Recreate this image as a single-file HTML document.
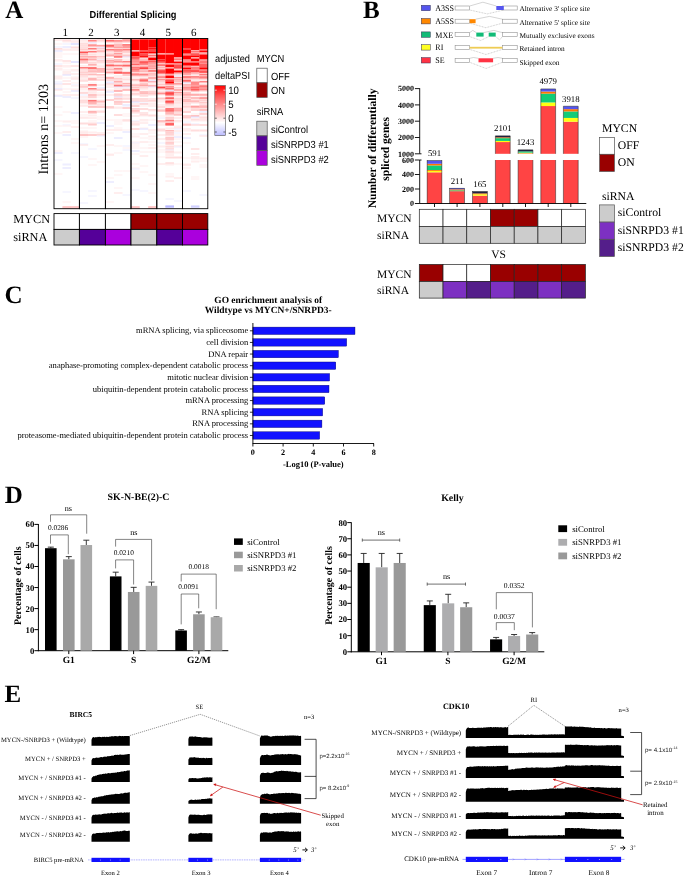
<!DOCTYPE html>
<html><head><meta charset="utf-8"><title>Figure</title>
<style>
html,body{margin:0;padding:0;background:#fff;}
body{width:685px;height:878px;overflow:hidden;}
svg{display:block;will-change:transform;}
text{text-rendering:geometricPrecision;}
.sf{font-family:"Liberation Serif",serif;}
.ss{font-family:"Liberation Sans",sans-serif;}
.b{font-weight:bold;}
</style></head><body>
<svg width="685" height="878" viewBox="0 0 685 878">
<rect width="685" height="878" fill="#fff"/>
<g id="panelA">
<text class="sf b" x="5.3" y="18.2" font-size="25">A</text>
<text class="ss b" x="133.0" y="17.5" font-size="10.2" text-anchor="middle" textLength="87" lengthAdjust="spacingAndGlyphs">Differential Splicing</text>
<text class="sf" x="65.2" y="35.8" font-size="11" text-anchor="middle">1</text>
<text class="sf" x="90.9" y="35.8" font-size="11" text-anchor="middle">2</text>
<text class="sf" x="116.7" y="35.8" font-size="11" text-anchor="middle">3</text>
<text class="sf" x="142.4" y="35.8" font-size="11" text-anchor="middle">4</text>
<text class="sf" x="168.2" y="35.8" font-size="11" text-anchor="middle">5</text>
<text class="sf" x="193.7" y="35.8" font-size="11" text-anchor="middle">6</text>
<rect x="54.00" y="39.5" width="8.52" height="1" fill="#fdd"/>
<rect x="54.00" y="43.5" width="8.52" height="1" fill="#fee"/>
<rect x="54.00" y="46.5" width="8.52" height="1" fill="#eef"/>
<rect x="54.00" y="48.5" width="8.52" height="1" fill="#fbb"/>
<rect x="54.00" y="49.5" width="8.52" height="1" fill="#fee"/>
<rect x="54.00" y="50.5" width="8.52" height="1" fill="#ddf"/>
<rect x="54.00" y="52.5" width="8.52" height="1" fill="#fee"/>
<rect x="54.00" y="54.5" width="8.52" height="1" fill="#fee"/>
<rect x="54.00" y="56.5" width="8.52" height="1" fill="#fee"/>
<rect x="54.00" y="59.5" width="8.52" height="1" fill="#fdd"/>
<rect x="54.00" y="60.5" width="8.52" height="1" fill="#fee"/>
<rect x="54.00" y="63.5" width="8.52" height="1" fill="#eef"/>
<rect x="54.00" y="65.5" width="8.52" height="1" fill="#fcc"/>
<rect x="54.00" y="67.5" width="8.52" height="3" fill="#fee"/>
<rect x="54.00" y="75.5" width="8.52" height="4" fill="#fee"/>
<rect x="54.00" y="81.5" width="8.52" height="1" fill="#eef"/>
<rect x="54.00" y="83.5" width="8.52" height="1" fill="#ddf"/>
<rect x="54.00" y="84.5" width="8.52" height="1" fill="#fee"/>
<rect x="54.00" y="86.5" width="8.52" height="1" fill="#fee"/>
<rect x="54.00" y="88.5" width="8.52" height="1" fill="#ddf"/>
<rect x="54.00" y="89.5" width="8.52" height="1" fill="#fdd"/>
<rect x="54.00" y="94.5" width="8.52" height="1" fill="#fee"/>
<rect x="54.00" y="95.5" width="8.52" height="1" fill="#ddf"/>
<rect x="54.00" y="106.5" width="8.52" height="1" fill="#fee"/>
<rect x="54.00" y="114.5" width="8.52" height="1" fill="#fee"/>
<rect x="54.00" y="120.5" width="8.52" height="1" fill="#fee"/>
<rect x="54.00" y="125.5" width="8.52" height="1" fill="#fee"/>
<rect x="54.00" y="132.5" width="8.52" height="1" fill="#fee"/>
<rect x="54.00" y="150.5" width="8.52" height="1" fill="#fee"/>
<rect x="54.00" y="152.5" width="8.52" height="1" fill="#ddf"/>
<rect x="54.00" y="159.5" width="8.52" height="1" fill="#eef"/>
<rect x="54.00" y="173.5" width="8.52" height="1" fill="#fee"/>
<rect x="62.47" y="39.5" width="8.52" height="1" fill="#fdd"/>
<rect x="62.47" y="40.5" width="8.52" height="1" fill="#fcc"/>
<rect x="62.47" y="41.5" width="8.52" height="1" fill="#fee"/>
<rect x="62.47" y="43.5" width="8.52" height="1" fill="#eef"/>
<rect x="62.47" y="46.5" width="8.52" height="1" fill="#ddf"/>
<rect x="62.47" y="48.5" width="8.52" height="1" fill="#fee"/>
<rect x="62.47" y="49.5" width="8.52" height="1" fill="#fdd"/>
<rect x="62.47" y="53.5" width="8.52" height="1" fill="#fee"/>
<rect x="62.47" y="60.5" width="8.52" height="1" fill="#fcc"/>
<rect x="62.47" y="62.5" width="8.52" height="1" fill="#fee"/>
<rect x="62.47" y="65.5" width="8.52" height="1" fill="#fdd"/>
<rect x="62.47" y="66.5" width="8.52" height="1" fill="#fee"/>
<rect x="62.47" y="69.5" width="8.52" height="1" fill="#fee"/>
<rect x="62.47" y="71.5" width="8.52" height="1" fill="#fdd"/>
<rect x="62.47" y="73.5" width="8.52" height="1" fill="#fdd"/>
<rect x="62.47" y="74.5" width="8.52" height="1" fill="#ddf"/>
<rect x="62.47" y="77.5" width="8.52" height="1" fill="#fee"/>
<rect x="62.47" y="80.5" width="8.52" height="1" fill="#fdd"/>
<rect x="62.47" y="83.5" width="8.52" height="1" fill="#fcc"/>
<rect x="62.47" y="88.5" width="8.52" height="1" fill="#fee"/>
<rect x="62.47" y="91.5" width="8.52" height="1" fill="#fee"/>
<rect x="62.47" y="94.5" width="8.52" height="1" fill="#fdd"/>
<rect x="62.47" y="96.5" width="8.52" height="1" fill="#ddf"/>
<rect x="62.47" y="111.5" width="8.52" height="1" fill="#fee"/>
<rect x="62.47" y="120.5" width="8.52" height="2" fill="#fee"/>
<rect x="62.47" y="124.5" width="8.52" height="1" fill="#eef"/>
<rect x="62.47" y="125.5" width="8.52" height="1" fill="#fee"/>
<rect x="62.47" y="131.5" width="8.52" height="1" fill="#fdd"/>
<rect x="62.47" y="134.5" width="8.52" height="1" fill="#ddf"/>
<rect x="62.47" y="163.5" width="8.52" height="2" fill="#eef"/>
<rect x="62.47" y="167.5" width="8.52" height="1" fill="#ddf"/>
<rect x="62.47" y="191.5" width="8.52" height="1" fill="#eef"/>
<rect x="62.47" y="201.5" width="8.52" height="1" fill="#fee"/>
<rect x="62.47" y="206.5" width="8.52" height="1" fill="#f99"/>
<rect x="62.47" y="207.5" width="8.52" height="1" fill="#fbb"/>
<rect x="70.93" y="39.5" width="8.52" height="2" fill="#fee"/>
<rect x="70.93" y="41.5" width="8.52" height="1" fill="#fdd"/>
<rect x="70.93" y="43.5" width="8.52" height="1" fill="#ccf"/>
<rect x="70.93" y="46.5" width="8.52" height="2" fill="#fdd"/>
<rect x="70.93" y="49.5" width="8.52" height="1" fill="#fdd"/>
<rect x="70.93" y="53.5" width="8.52" height="1" fill="#fee"/>
<rect x="70.93" y="61.5" width="8.52" height="1" fill="#ccf"/>
<rect x="70.93" y="65.5" width="8.52" height="1" fill="#fcc"/>
<rect x="70.93" y="69.5" width="8.52" height="1" fill="#fdd"/>
<rect x="70.93" y="70.5" width="8.52" height="1" fill="#fee"/>
<rect x="70.93" y="73.5" width="8.52" height="1" fill="#fdd"/>
<rect x="70.93" y="76.5" width="8.52" height="2" fill="#fee"/>
<rect x="70.93" y="78.5" width="8.52" height="1" fill="#fdd"/>
<rect x="70.93" y="82.5" width="8.52" height="1" fill="#fee"/>
<rect x="70.93" y="84.5" width="8.52" height="1" fill="#eef"/>
<rect x="70.93" y="85.5" width="8.52" height="1" fill="#fee"/>
<rect x="70.93" y="88.5" width="8.52" height="2" fill="#fee"/>
<rect x="70.93" y="90.5" width="8.52" height="1" fill="#ddf"/>
<rect x="70.93" y="94.5" width="8.52" height="1" fill="#fdd"/>
<rect x="70.93" y="97.5" width="8.52" height="1" fill="#eef"/>
<rect x="70.93" y="112.5" width="8.52" height="1" fill="#ddf"/>
<rect x="70.93" y="120.5" width="8.52" height="1" fill="#fee"/>
<rect x="70.93" y="122.5" width="8.52" height="1" fill="#fee"/>
<rect x="70.93" y="126.5" width="8.52" height="1" fill="#fdd"/>
<rect x="70.93" y="138.5" width="8.52" height="1" fill="#fee"/>
<rect x="70.93" y="142.5" width="8.52" height="1" fill="#fee"/>
<rect x="70.93" y="152.5" width="8.52" height="1" fill="#eef"/>
<rect x="70.93" y="206.5" width="8.52" height="1" fill="#f99"/>
<rect x="70.93" y="207.5" width="8.52" height="1" fill="#fbb"/>
<rect x="79.40" y="38.5" width="8.72" height="1" fill="#ddf"/>
<rect x="79.40" y="39.5" width="8.72" height="1" fill="#fee"/>
<rect x="79.40" y="40.5" width="8.72" height="1" fill="#fdd"/>
<rect x="79.40" y="42.5" width="8.72" height="1" fill="#fdd"/>
<rect x="79.40" y="43.5" width="8.72" height="1" fill="#fcc"/>
<rect x="79.40" y="44.5" width="8.72" height="1" fill="#fdd"/>
<rect x="79.40" y="45.5" width="8.72" height="1" fill="#fcc"/>
<rect x="79.40" y="46.5" width="8.72" height="2" fill="#fdd"/>
<rect x="79.40" y="48.5" width="8.72" height="2" fill="#fcc"/>
<rect x="79.40" y="50.5" width="8.72" height="1" fill="#fdd"/>
<rect x="79.40" y="51.5" width="8.72" height="1" fill="#f55"/>
<rect x="79.40" y="52.5" width="8.72" height="1" fill="#f00"/>
<rect x="79.40" y="53.5" width="8.72" height="1" fill="#fee"/>
<rect x="79.40" y="54.5" width="8.72" height="1" fill="#f77"/>
<rect x="79.40" y="55.5" width="8.72" height="1" fill="#fee"/>
<rect x="79.40" y="56.5" width="8.72" height="1" fill="#f66"/>
<rect x="79.40" y="57.5" width="8.72" height="1" fill="#fdd"/>
<rect x="79.40" y="58.5" width="8.72" height="1" fill="#f77"/>
<rect x="79.40" y="59.5" width="8.72" height="1" fill="#f22"/>
<rect x="79.40" y="60.5" width="8.72" height="1" fill="#fcc"/>
<rect x="79.40" y="61.5" width="8.72" height="1" fill="#faa"/>
<rect x="79.40" y="62.5" width="8.72" height="1" fill="#fbb"/>
<rect x="79.40" y="65.5" width="8.72" height="1" fill="#fdd"/>
<rect x="79.40" y="66.5" width="8.72" height="1" fill="#fee"/>
<rect x="79.40" y="67.5" width="8.72" height="1" fill="#f00"/>
<rect x="79.40" y="68.5" width="8.72" height="1" fill="#fdd"/>
<rect x="79.40" y="69.5" width="8.72" height="1" fill="#fcc"/>
<rect x="79.40" y="70.5" width="8.72" height="1" fill="#fdd"/>
<rect x="79.40" y="71.5" width="8.72" height="1" fill="#fcc"/>
<rect x="79.40" y="72.5" width="8.72" height="1" fill="#fbb"/>
<rect x="79.40" y="74.5" width="8.72" height="1" fill="#f99"/>
<rect x="79.40" y="75.5" width="8.72" height="1" fill="#fee"/>
<rect x="79.40" y="76.5" width="8.72" height="1" fill="#fcc"/>
<rect x="79.40" y="77.5" width="8.72" height="2" fill="#fee"/>
<rect x="79.40" y="79.5" width="8.72" height="1" fill="#fdd"/>
<rect x="79.40" y="80.5" width="8.72" height="1" fill="#fcc"/>
<rect x="79.40" y="84.5" width="8.72" height="1" fill="#fbb"/>
<rect x="79.40" y="85.5" width="8.72" height="1" fill="#fdd"/>
<rect x="79.40" y="86.5" width="8.72" height="1" fill="#faa"/>
<rect x="79.40" y="88.5" width="8.72" height="1" fill="#fdd"/>
<rect x="79.40" y="89.5" width="8.72" height="1" fill="#fee"/>
<rect x="79.40" y="91.5" width="8.72" height="1" fill="#fee"/>
<rect x="79.40" y="92.5" width="8.72" height="1" fill="#fbb"/>
<rect x="79.40" y="94.5" width="8.72" height="1" fill="#eef"/>
<rect x="79.40" y="96.5" width="8.72" height="1" fill="#fdd"/>
<rect x="79.40" y="98.5" width="8.72" height="2" fill="#fee"/>
<rect x="79.40" y="100.5" width="8.72" height="1" fill="#fbb"/>
<rect x="79.40" y="101.5" width="8.72" height="2" fill="#fdd"/>
<rect x="79.40" y="104.5" width="8.72" height="1" fill="#fee"/>
<rect x="79.40" y="105.5" width="8.72" height="1" fill="#fdd"/>
<rect x="79.40" y="111.5" width="8.72" height="1" fill="#fdd"/>
<rect x="79.40" y="114.5" width="8.72" height="1" fill="#fee"/>
<rect x="79.40" y="116.5" width="8.72" height="1" fill="#fee"/>
<rect x="79.40" y="117.5" width="8.72" height="1" fill="#fdd"/>
<rect x="79.40" y="122.5" width="8.72" height="2" fill="#fdd"/>
<rect x="79.40" y="127.5" width="8.72" height="1" fill="#fee"/>
<rect x="79.40" y="130.5" width="8.72" height="2" fill="#fee"/>
<rect x="79.40" y="132.5" width="8.72" height="1" fill="#fdd"/>
<rect x="79.40" y="134.5" width="8.72" height="1" fill="#f88"/>
<rect x="79.40" y="136.5" width="8.72" height="1" fill="#fee"/>
<rect x="79.40" y="143.5" width="8.72" height="1" fill="#eef"/>
<rect x="79.40" y="144.5" width="8.72" height="1" fill="#fdd"/>
<rect x="79.40" y="156.5" width="8.72" height="1" fill="#eef"/>
<rect x="79.40" y="202.5" width="8.72" height="1" fill="#eef"/>
<rect x="88.07" y="39.5" width="8.72" height="1" fill="#fcc"/>
<rect x="88.07" y="40.5" width="8.72" height="1" fill="#f22"/>
<rect x="88.07" y="41.5" width="8.72" height="1" fill="#fdd"/>
<rect x="88.07" y="42.5" width="8.72" height="1" fill="#ddf"/>
<rect x="88.07" y="43.5" width="8.72" height="1" fill="#fee"/>
<rect x="88.07" y="44.5" width="8.72" height="1" fill="#f66"/>
<rect x="88.07" y="45.5" width="8.72" height="1" fill="#f77"/>
<rect x="88.07" y="46.5" width="8.72" height="1" fill="#fcc"/>
<rect x="88.07" y="47.5" width="8.72" height="1" fill="#fee"/>
<rect x="88.07" y="48.5" width="8.72" height="1" fill="#f00"/>
<rect x="88.07" y="49.5" width="8.72" height="1" fill="#fee"/>
<rect x="88.07" y="50.5" width="8.72" height="1" fill="#fdd"/>
<rect x="88.07" y="51.5" width="8.72" height="1" fill="#f00"/>
<rect x="88.07" y="52.5" width="8.72" height="2" fill="#fee"/>
<rect x="88.07" y="54.5" width="8.72" height="1" fill="#fcc"/>
<rect x="88.07" y="55.5" width="8.72" height="1" fill="#fee"/>
<rect x="88.07" y="56.5" width="8.72" height="1" fill="#f66"/>
<rect x="88.07" y="57.5" width="8.72" height="2" fill="#fcc"/>
<rect x="88.07" y="59.5" width="8.72" height="1" fill="#f77"/>
<rect x="88.07" y="60.5" width="8.72" height="2" fill="#fee"/>
<rect x="88.07" y="62.5" width="8.72" height="1" fill="#fbb"/>
<rect x="88.07" y="64.5" width="8.72" height="1" fill="#f66"/>
<rect x="88.07" y="65.5" width="8.72" height="1" fill="#fdd"/>
<rect x="88.07" y="66.5" width="8.72" height="1" fill="#fee"/>
<rect x="88.07" y="67.5" width="8.72" height="1" fill="#f00"/>
<rect x="88.07" y="68.5" width="8.72" height="1" fill="#f66"/>
<rect x="88.07" y="69.5" width="8.72" height="1" fill="#fdd"/>
<rect x="88.07" y="70.5" width="8.72" height="1" fill="#f99"/>
<rect x="88.07" y="71.5" width="8.72" height="1" fill="#faa"/>
<rect x="88.07" y="73.5" width="8.72" height="2" fill="#fbb"/>
<rect x="88.07" y="75.5" width="8.72" height="1" fill="#fee"/>
<rect x="88.07" y="77.5" width="8.72" height="1" fill="#fcc"/>
<rect x="88.07" y="78.5" width="8.72" height="1" fill="#f88"/>
<rect x="88.07" y="79.5" width="8.72" height="1" fill="#faa"/>
<rect x="88.07" y="82.5" width="8.72" height="1" fill="#fee"/>
<rect x="88.07" y="84.5" width="8.72" height="1" fill="#f00"/>
<rect x="88.07" y="85.5" width="8.72" height="1" fill="#faa"/>
<rect x="88.07" y="86.5" width="8.72" height="1" fill="#fee"/>
<rect x="88.07" y="88.5" width="8.72" height="1" fill="#f00"/>
<rect x="88.07" y="89.5" width="8.72" height="2" fill="#fdd"/>
<rect x="88.07" y="91.5" width="8.72" height="1" fill="#fee"/>
<rect x="88.07" y="92.5" width="8.72" height="1" fill="#fdd"/>
<rect x="88.07" y="94.5" width="8.72" height="1" fill="#f88"/>
<rect x="88.07" y="96.5" width="8.72" height="1" fill="#faa"/>
<rect x="88.07" y="98.5" width="8.72" height="1" fill="#fee"/>
<rect x="88.07" y="99.5" width="8.72" height="1" fill="#fdd"/>
<rect x="88.07" y="100.5" width="8.72" height="1" fill="#f00"/>
<rect x="88.07" y="101.5" width="8.72" height="1" fill="#fbb"/>
<rect x="88.07" y="102.5" width="8.72" height="1" fill="#f88"/>
<rect x="88.07" y="103.5" width="8.72" height="1" fill="#faa"/>
<rect x="88.07" y="105.5" width="8.72" height="1" fill="#fdd"/>
<rect x="88.07" y="106.5" width="8.72" height="1" fill="#f99"/>
<rect x="88.07" y="110.5" width="8.72" height="1" fill="#fdd"/>
<rect x="88.07" y="111.5" width="8.72" height="1" fill="#f77"/>
<rect x="88.07" y="112.5" width="8.72" height="1" fill="#fbb"/>
<rect x="88.07" y="114.5" width="8.72" height="2" fill="#fee"/>
<rect x="88.07" y="117.5" width="8.72" height="1" fill="#fdd"/>
<rect x="88.07" y="120.5" width="8.72" height="1" fill="#fee"/>
<rect x="88.07" y="122.5" width="8.72" height="1" fill="#fdd"/>
<rect x="88.07" y="123.5" width="8.72" height="2" fill="#fcc"/>
<rect x="88.07" y="127.5" width="8.72" height="1" fill="#fee"/>
<rect x="88.07" y="131.5" width="8.72" height="2" fill="#fee"/>
<rect x="88.07" y="134.5" width="8.72" height="1" fill="#f99"/>
<rect x="88.07" y="148.5" width="8.72" height="1" fill="#eef"/>
<rect x="88.07" y="158.5" width="8.72" height="1" fill="#fee"/>
<rect x="88.07" y="164.5" width="8.72" height="1" fill="#fee"/>
<rect x="88.07" y="190.5" width="8.72" height="1" fill="#eef"/>
<rect x="88.07" y="195.5" width="8.72" height="1" fill="#eef"/>
<rect x="96.73" y="38.5" width="8.72" height="1" fill="#fbb"/>
<rect x="96.73" y="39.5" width="8.72" height="1" fill="#fdd"/>
<rect x="96.73" y="40.5" width="8.72" height="1" fill="#fbb"/>
<rect x="96.73" y="41.5" width="8.72" height="1" fill="#fee"/>
<rect x="96.73" y="44.5" width="8.72" height="1" fill="#fdd"/>
<rect x="96.73" y="45.5" width="8.72" height="1" fill="#f55"/>
<rect x="96.73" y="46.5" width="8.72" height="1" fill="#fdd"/>
<rect x="96.73" y="47.5" width="8.72" height="1" fill="#ddf"/>
<rect x="96.73" y="48.5" width="8.72" height="1" fill="#faa"/>
<rect x="96.73" y="49.5" width="8.72" height="1" fill="#fee"/>
<rect x="96.73" y="50.5" width="8.72" height="1" fill="#f99"/>
<rect x="96.73" y="51.5" width="8.72" height="1" fill="#faa"/>
<rect x="96.73" y="52.5" width="8.72" height="4" fill="#fee"/>
<rect x="96.73" y="56.5" width="8.72" height="1" fill="#f99"/>
<rect x="96.73" y="57.5" width="8.72" height="1" fill="#fee"/>
<rect x="96.73" y="58.5" width="8.72" height="1" fill="#fcc"/>
<rect x="96.73" y="59.5" width="8.72" height="1" fill="#eef"/>
<rect x="96.73" y="60.5" width="8.72" height="1" fill="#faa"/>
<rect x="96.73" y="61.5" width="8.72" height="2" fill="#fdd"/>
<rect x="96.73" y="64.5" width="8.72" height="2" fill="#fee"/>
<rect x="96.73" y="66.5" width="8.72" height="1" fill="#fdd"/>
<rect x="96.73" y="67.5" width="8.72" height="1" fill="#fee"/>
<rect x="96.73" y="68.5" width="8.72" height="1" fill="#f66"/>
<rect x="96.73" y="69.5" width="8.72" height="2" fill="#fbb"/>
<rect x="96.73" y="71.5" width="8.72" height="1" fill="#f99"/>
<rect x="96.73" y="74.5" width="8.72" height="1" fill="#f88"/>
<rect x="96.73" y="75.5" width="8.72" height="1" fill="#fee"/>
<rect x="96.73" y="76.5" width="8.72" height="2" fill="#fdd"/>
<rect x="96.73" y="78.5" width="8.72" height="1" fill="#fee"/>
<rect x="96.73" y="79.5" width="8.72" height="1" fill="#fbb"/>
<rect x="96.73" y="84.5" width="8.72" height="1" fill="#fdd"/>
<rect x="96.73" y="87.5" width="8.72" height="1" fill="#ddf"/>
<rect x="96.73" y="88.5" width="8.72" height="1" fill="#fdd"/>
<rect x="96.73" y="89.5" width="8.72" height="1" fill="#faa"/>
<rect x="96.73" y="92.5" width="8.72" height="1" fill="#fee"/>
<rect x="96.73" y="94.5" width="8.72" height="1" fill="#fcc"/>
<rect x="96.73" y="96.5" width="8.72" height="1" fill="#fee"/>
<rect x="96.73" y="99.5" width="8.72" height="1" fill="#fee"/>
<rect x="96.73" y="100.5" width="8.72" height="2" fill="#fbb"/>
<rect x="96.73" y="102.5" width="8.72" height="1" fill="#fcc"/>
<rect x="96.73" y="103.5" width="8.72" height="1" fill="#fee"/>
<rect x="96.73" y="104.5" width="8.72" height="1" fill="#fcc"/>
<rect x="96.73" y="106.5" width="8.72" height="1" fill="#f99"/>
<rect x="96.73" y="110.5" width="8.72" height="1" fill="#fdd"/>
<rect x="96.73" y="111.5" width="8.72" height="1" fill="#fcc"/>
<rect x="96.73" y="116.5" width="8.72" height="1" fill="#fee"/>
<rect x="96.73" y="118.5" width="8.72" height="1" fill="#fee"/>
<rect x="96.73" y="122.5" width="8.72" height="1" fill="#ddf"/>
<rect x="96.73" y="132.5" width="8.72" height="1" fill="#fdd"/>
<rect x="96.73" y="134.5" width="8.72" height="1" fill="#faa"/>
<rect x="96.73" y="135.5" width="8.72" height="1" fill="#eef"/>
<rect x="96.73" y="145.5" width="8.72" height="1" fill="#fee"/>
<rect x="96.73" y="161.5" width="8.72" height="1" fill="#fee"/>
<rect x="105.40" y="39.5" width="8.58" height="1" fill="#fbb"/>
<rect x="105.40" y="40.5" width="8.58" height="1" fill="#f00"/>
<rect x="105.40" y="41.5" width="8.58" height="1" fill="#fbb"/>
<rect x="105.40" y="43.5" width="8.58" height="1" fill="#fee"/>
<rect x="105.40" y="44.5" width="8.58" height="1" fill="#f88"/>
<rect x="105.40" y="45.5" width="8.58" height="1" fill="#f00"/>
<rect x="105.40" y="46.5" width="8.58" height="1" fill="#f77"/>
<rect x="105.40" y="47.5" width="8.58" height="1" fill="#fbb"/>
<rect x="105.40" y="48.5" width="8.58" height="1" fill="#fee"/>
<rect x="105.40" y="49.5" width="8.58" height="1" fill="#f00"/>
<rect x="105.40" y="50.5" width="8.58" height="1" fill="#fdd"/>
<rect x="105.40" y="51.5" width="8.58" height="1" fill="#fbb"/>
<rect x="105.40" y="52.5" width="8.58" height="1" fill="#fee"/>
<rect x="105.40" y="53.5" width="8.58" height="1" fill="#fbb"/>
<rect x="105.40" y="54.5" width="8.58" height="2" fill="#faa"/>
<rect x="105.40" y="58.5" width="8.58" height="1" fill="#fbb"/>
<rect x="105.40" y="59.5" width="8.58" height="1" fill="#fdd"/>
<rect x="105.40" y="60.5" width="8.58" height="1" fill="#f66"/>
<rect x="105.40" y="61.5" width="8.58" height="2" fill="#fbb"/>
<rect x="105.40" y="63.5" width="8.58" height="1" fill="#fdd"/>
<rect x="105.40" y="64.5" width="8.58" height="1" fill="#f55"/>
<rect x="105.40" y="65.5" width="8.58" height="1" fill="#f22"/>
<rect x="105.40" y="66.5" width="8.58" height="2" fill="#fdd"/>
<rect x="105.40" y="68.5" width="8.58" height="2" fill="#fbb"/>
<rect x="105.40" y="71.5" width="8.58" height="1" fill="#f99"/>
<rect x="105.40" y="72.5" width="8.58" height="1" fill="#f77"/>
<rect x="105.40" y="73.5" width="8.58" height="1" fill="#fee"/>
<rect x="105.40" y="76.5" width="8.58" height="1" fill="#fdd"/>
<rect x="105.40" y="77.5" width="8.58" height="1" fill="#f77"/>
<rect x="105.40" y="79.5" width="8.58" height="1" fill="#fbb"/>
<rect x="105.40" y="80.5" width="8.58" height="1" fill="#fdd"/>
<rect x="105.40" y="81.5" width="8.58" height="1" fill="#eef"/>
<rect x="105.40" y="82.5" width="8.58" height="1" fill="#ddf"/>
<rect x="105.40" y="83.5" width="8.58" height="1" fill="#fcc"/>
<rect x="105.40" y="84.5" width="8.58" height="1" fill="#fdd"/>
<rect x="105.40" y="86.5" width="8.58" height="1" fill="#fdd"/>
<rect x="105.40" y="89.5" width="8.58" height="2" fill="#fee"/>
<rect x="105.40" y="91.5" width="8.58" height="1" fill="#ddf"/>
<rect x="105.40" y="94.5" width="8.58" height="1" fill="#fdd"/>
<rect x="105.40" y="99.5" width="8.58" height="1" fill="#faa"/>
<rect x="105.40" y="106.5" width="8.58" height="1" fill="#faa"/>
<rect x="105.40" y="107.5" width="8.58" height="1" fill="#fcc"/>
<rect x="105.40" y="119.5" width="8.58" height="1" fill="#fee"/>
<rect x="105.40" y="125.5" width="8.58" height="1" fill="#ddf"/>
<rect x="105.40" y="129.5" width="8.58" height="1" fill="#fdd"/>
<rect x="105.40" y="132.5" width="8.58" height="1" fill="#fee"/>
<rect x="105.40" y="144.5" width="8.58" height="1" fill="#fdd"/>
<rect x="105.40" y="153.5" width="8.58" height="1" fill="#fee"/>
<rect x="105.40" y="154.5" width="8.58" height="1" fill="#fdd"/>
<rect x="105.40" y="177.5" width="8.58" height="1" fill="#fee"/>
<rect x="105.40" y="181.5" width="8.58" height="1" fill="#ddf"/>
<rect x="105.40" y="201.5" width="8.58" height="1" fill="#fee"/>
<rect x="113.93" y="39.5" width="8.58" height="1" fill="#fdd"/>
<rect x="113.93" y="40.5" width="8.58" height="1" fill="#f33"/>
<rect x="113.93" y="41.5" width="8.58" height="1" fill="#faa"/>
<rect x="113.93" y="43.5" width="8.58" height="1" fill="#fbb"/>
<rect x="113.93" y="44.5" width="8.58" height="1" fill="#f99"/>
<rect x="113.93" y="45.5" width="8.58" height="1" fill="#faa"/>
<rect x="113.93" y="46.5" width="8.58" height="1" fill="#f99"/>
<rect x="113.93" y="47.5" width="8.58" height="1" fill="#f77"/>
<rect x="113.93" y="48.5" width="8.58" height="1" fill="#fee"/>
<rect x="113.93" y="49.5" width="8.58" height="1" fill="#f22"/>
<rect x="113.93" y="50.5" width="8.58" height="1" fill="#faa"/>
<rect x="113.93" y="51.5" width="8.58" height="1" fill="#f88"/>
<rect x="113.93" y="52.5" width="8.58" height="1" fill="#fee"/>
<rect x="113.93" y="53.5" width="8.58" height="1" fill="#f44"/>
<rect x="113.93" y="54.5" width="8.58" height="1" fill="#fdd"/>
<rect x="113.93" y="55.5" width="8.58" height="1" fill="#f88"/>
<rect x="113.93" y="56.5" width="8.58" height="1" fill="#f33"/>
<rect x="113.93" y="58.5" width="8.58" height="1" fill="#fee"/>
<rect x="113.93" y="59.5" width="8.58" height="1" fill="#f88"/>
<rect x="113.93" y="61.5" width="8.58" height="1" fill="#f33"/>
<rect x="113.93" y="62.5" width="8.58" height="2" fill="#fee"/>
<rect x="113.93" y="64.5" width="8.58" height="1" fill="#faa"/>
<rect x="113.93" y="65.5" width="8.58" height="1" fill="#f22"/>
<rect x="113.93" y="66.5" width="8.58" height="1" fill="#fee"/>
<rect x="113.93" y="67.5" width="8.58" height="1" fill="#fcc"/>
<rect x="113.93" y="68.5" width="8.58" height="1" fill="#f33"/>
<rect x="113.93" y="69.5" width="8.58" height="1" fill="#fbb"/>
<rect x="113.93" y="70.5" width="8.58" height="1" fill="#fcc"/>
<rect x="113.93" y="71.5" width="8.58" height="1" fill="#f66"/>
<rect x="113.93" y="72.5" width="8.58" height="1" fill="#f00"/>
<rect x="113.93" y="75.5" width="8.58" height="1" fill="#fdd"/>
<rect x="113.93" y="77.5" width="8.58" height="1" fill="#fdd"/>
<rect x="113.93" y="78.5" width="8.58" height="1" fill="#faa"/>
<rect x="113.93" y="79.5" width="8.58" height="1" fill="#fdd"/>
<rect x="113.93" y="80.5" width="8.58" height="1" fill="#fcc"/>
<rect x="113.93" y="81.5" width="8.58" height="1" fill="#f77"/>
<rect x="113.93" y="82.5" width="8.58" height="2" fill="#fdd"/>
<rect x="113.93" y="84.5" width="8.58" height="1" fill="#f99"/>
<rect x="113.93" y="85.5" width="8.58" height="1" fill="#f22"/>
<rect x="113.93" y="86.5" width="8.58" height="1" fill="#ddf"/>
<rect x="113.93" y="87.5" width="8.58" height="3" fill="#fee"/>
<rect x="113.93" y="90.5" width="8.58" height="1" fill="#f77"/>
<rect x="113.93" y="93.5" width="8.58" height="1" fill="#fcc"/>
<rect x="113.93" y="94.5" width="8.58" height="1" fill="#fbb"/>
<rect x="113.93" y="95.5" width="8.58" height="1" fill="#fcc"/>
<rect x="113.93" y="96.5" width="8.58" height="1" fill="#ddf"/>
<rect x="113.93" y="97.5" width="8.58" height="1" fill="#fdd"/>
<rect x="113.93" y="98.5" width="8.58" height="1" fill="#faa"/>
<rect x="113.93" y="99.5" width="8.58" height="1" fill="#fdd"/>
<rect x="113.93" y="100.5" width="8.58" height="1" fill="#fee"/>
<rect x="113.93" y="101.5" width="8.58" height="1" fill="#f99"/>
<rect x="113.93" y="103.5" width="8.58" height="1" fill="#faa"/>
<rect x="113.93" y="106.5" width="8.58" height="1" fill="#fee"/>
<rect x="113.93" y="107.5" width="8.58" height="1" fill="#fdd"/>
<rect x="113.93" y="114.5" width="8.58" height="1" fill="#fbb"/>
<rect x="113.93" y="119.5" width="8.58" height="1" fill="#fee"/>
<rect x="113.93" y="121.5" width="8.58" height="1" fill="#fee"/>
<rect x="113.93" y="123.5" width="8.58" height="1" fill="#fee"/>
<rect x="113.93" y="127.5" width="8.58" height="1" fill="#fee"/>
<rect x="113.93" y="129.5" width="8.58" height="1" fill="#fdd"/>
<rect x="113.93" y="137.5" width="8.58" height="1" fill="#ddf"/>
<rect x="113.93" y="145.5" width="8.58" height="1" fill="#fee"/>
<rect x="113.93" y="152.5" width="8.58" height="1" fill="#fee"/>
<rect x="113.93" y="170.5" width="8.58" height="1" fill="#fee"/>
<rect x="113.93" y="174.5" width="8.58" height="1" fill="#fee"/>
<rect x="113.93" y="187.5" width="8.58" height="1" fill="#fee"/>
<rect x="113.93" y="192.5" width="8.58" height="1" fill="#fdd"/>
<rect x="122.47" y="38.5" width="8.58" height="1" fill="#f77"/>
<rect x="122.47" y="39.5" width="8.58" height="1" fill="#f99"/>
<rect x="122.47" y="40.5" width="8.58" height="1" fill="#f66"/>
<rect x="122.47" y="41.5" width="8.58" height="1" fill="#fbb"/>
<rect x="122.47" y="44.5" width="8.58" height="1" fill="#f00"/>
<rect x="122.47" y="45.5" width="8.58" height="2" fill="#f99"/>
<rect x="122.47" y="47.5" width="8.58" height="1" fill="#f66"/>
<rect x="122.47" y="48.5" width="8.58" height="1" fill="#fee"/>
<rect x="122.47" y="49.5" width="8.58" height="1" fill="#f00"/>
<rect x="122.47" y="50.5" width="8.58" height="1" fill="#fdd"/>
<rect x="122.47" y="51.5" width="8.58" height="1" fill="#faa"/>
<rect x="122.47" y="53.5" width="8.58" height="1" fill="#fdd"/>
<rect x="122.47" y="54.5" width="8.58" height="1" fill="#fcc"/>
<rect x="122.47" y="55.5" width="8.58" height="1" fill="#faa"/>
<rect x="122.47" y="56.5" width="8.58" height="1" fill="#ddf"/>
<rect x="122.47" y="57.5" width="8.58" height="1" fill="#fee"/>
<rect x="122.47" y="59.5" width="8.58" height="1" fill="#fdd"/>
<rect x="122.47" y="60.5" width="8.58" height="1" fill="#fee"/>
<rect x="122.47" y="61.5" width="8.58" height="1" fill="#f11"/>
<rect x="122.47" y="62.5" width="8.58" height="1" fill="#fee"/>
<rect x="122.47" y="63.5" width="8.58" height="1" fill="#fcc"/>
<rect x="122.47" y="64.5" width="8.58" height="1" fill="#f99"/>
<rect x="122.47" y="65.5" width="8.58" height="1" fill="#f00"/>
<rect x="122.47" y="66.5" width="8.58" height="1" fill="#fcc"/>
<rect x="122.47" y="67.5" width="8.58" height="2" fill="#fee"/>
<rect x="122.47" y="70.5" width="8.58" height="1" fill="#fee"/>
<rect x="122.47" y="71.5" width="8.58" height="1" fill="#fcc"/>
<rect x="122.47" y="72.5" width="8.58" height="1" fill="#f00"/>
<rect x="122.47" y="74.5" width="8.58" height="1" fill="#f99"/>
<rect x="122.47" y="76.5" width="8.58" height="2" fill="#fee"/>
<rect x="122.47" y="78.5" width="8.58" height="2" fill="#fdd"/>
<rect x="122.47" y="80.5" width="8.58" height="1" fill="#fee"/>
<rect x="122.47" y="82.5" width="8.58" height="1" fill="#fdd"/>
<rect x="122.47" y="83.5" width="8.58" height="1" fill="#f77"/>
<rect x="122.47" y="84.5" width="8.58" height="1" fill="#fee"/>
<rect x="122.47" y="85.5" width="8.58" height="1" fill="#f77"/>
<rect x="122.47" y="86.5" width="8.58" height="1" fill="#ddf"/>
<rect x="122.47" y="87.5" width="8.58" height="1" fill="#fee"/>
<rect x="122.47" y="88.5" width="8.58" height="1" fill="#fdd"/>
<rect x="122.47" y="89.5" width="8.58" height="1" fill="#f88"/>
<rect x="122.47" y="94.5" width="8.58" height="1" fill="#fcc"/>
<rect x="122.47" y="95.5" width="8.58" height="1" fill="#fdd"/>
<rect x="122.47" y="97.5" width="8.58" height="1" fill="#fdd"/>
<rect x="122.47" y="98.5" width="8.58" height="1" fill="#fcc"/>
<rect x="122.47" y="101.5" width="8.58" height="1" fill="#faa"/>
<rect x="122.47" y="104.5" width="8.58" height="1" fill="#ddf"/>
<rect x="122.47" y="105.5" width="8.58" height="1" fill="#eef"/>
<rect x="122.47" y="107.5" width="8.58" height="1" fill="#faa"/>
<rect x="122.47" y="113.5" width="8.58" height="1" fill="#fee"/>
<rect x="122.47" y="115.5" width="8.58" height="1" fill="#fee"/>
<rect x="122.47" y="119.5" width="8.58" height="1" fill="#fcc"/>
<rect x="122.47" y="120.5" width="8.58" height="1" fill="#fdd"/>
<rect x="122.47" y="129.5" width="8.58" height="1" fill="#fee"/>
<rect x="122.47" y="131.5" width="8.58" height="1" fill="#ddf"/>
<rect x="122.47" y="145.5" width="8.58" height="1" fill="#eef"/>
<rect x="122.47" y="147.5" width="8.58" height="1" fill="#fee"/>
<rect x="122.47" y="149.5" width="8.58" height="1" fill="#eef"/>
<rect x="122.47" y="170.5" width="8.58" height="1" fill="#fee"/>
<rect x="122.47" y="194.5" width="8.58" height="1" fill="#eef"/>
<rect x="131.00" y="38.5" width="8.65" height="1" fill="#faa"/>
<rect x="131.00" y="39.5" width="8.65" height="11" fill="#f00"/>
<rect x="131.00" y="50.5" width="8.65" height="1" fill="#fdd"/>
<rect x="131.00" y="51.5" width="8.65" height="5" fill="#f00"/>
<rect x="131.00" y="56.5" width="8.65" height="1" fill="#f55"/>
<rect x="131.00" y="57.5" width="8.65" height="1" fill="#f00"/>
<rect x="131.00" y="58.5" width="8.65" height="1" fill="#f44"/>
<rect x="131.00" y="59.5" width="8.65" height="1" fill="#f66"/>
<rect x="131.00" y="60.5" width="8.65" height="1" fill="#f77"/>
<rect x="131.00" y="61.5" width="8.65" height="1" fill="#f66"/>
<rect x="131.00" y="62.5" width="8.65" height="1" fill="#f88"/>
<rect x="131.00" y="63.5" width="8.65" height="1" fill="#f77"/>
<rect x="131.00" y="64.5" width="8.65" height="1" fill="#f11"/>
<rect x="131.00" y="65.5" width="8.65" height="1" fill="#fee"/>
<rect x="131.00" y="66.5" width="8.65" height="1" fill="#f77"/>
<rect x="131.00" y="67.5" width="8.65" height="1" fill="#f33"/>
<rect x="131.00" y="68.5" width="8.65" height="2" fill="#f77"/>
<rect x="131.00" y="70.5" width="8.65" height="1" fill="#f66"/>
<rect x="131.00" y="71.5" width="8.65" height="1" fill="#f88"/>
<rect x="131.00" y="72.5" width="8.65" height="1" fill="#fee"/>
<rect x="131.00" y="73.5" width="8.65" height="1" fill="#f55"/>
<rect x="131.00" y="74.5" width="8.65" height="1" fill="#f66"/>
<rect x="131.00" y="75.5" width="8.65" height="1" fill="#faa"/>
<rect x="131.00" y="76.5" width="8.65" height="2" fill="#fee"/>
<rect x="131.00" y="78.5" width="8.65" height="1" fill="#fdd"/>
<rect x="131.00" y="79.5" width="8.65" height="1" fill="#f88"/>
<rect x="131.00" y="80.5" width="8.65" height="1" fill="#fdd"/>
<rect x="131.00" y="82.5" width="8.65" height="2" fill="#fee"/>
<rect x="131.00" y="84.5" width="8.65" height="1" fill="#f99"/>
<rect x="131.00" y="85.5" width="8.65" height="1" fill="#faa"/>
<rect x="131.00" y="86.5" width="8.65" height="1" fill="#fdd"/>
<rect x="131.00" y="87.5" width="8.65" height="1" fill="#f99"/>
<rect x="131.00" y="88.5" width="8.65" height="1" fill="#fee"/>
<rect x="131.00" y="89.5" width="8.65" height="1" fill="#f33"/>
<rect x="131.00" y="90.5" width="8.65" height="1" fill="#fbb"/>
<rect x="131.00" y="91.5" width="8.65" height="1" fill="#fdd"/>
<rect x="131.00" y="93.5" width="8.65" height="1" fill="#faa"/>
<rect x="131.00" y="94.5" width="8.65" height="1" fill="#fdd"/>
<rect x="131.00" y="98.5" width="8.65" height="1" fill="#fbb"/>
<rect x="131.00" y="100.5" width="8.65" height="1" fill="#fbb"/>
<rect x="131.00" y="101.5" width="8.65" height="1" fill="#ddf"/>
<rect x="131.00" y="103.5" width="8.65" height="1" fill="#fdd"/>
<rect x="131.00" y="105.5" width="8.65" height="1" fill="#faa"/>
<rect x="131.00" y="108.5" width="8.65" height="1" fill="#faa"/>
<rect x="131.00" y="109.5" width="8.65" height="1" fill="#fdd"/>
<rect x="131.00" y="110.5" width="8.65" height="1" fill="#f99"/>
<rect x="131.00" y="111.5" width="8.65" height="1" fill="#fcc"/>
<rect x="131.00" y="112.5" width="8.65" height="1" fill="#fdd"/>
<rect x="131.00" y="115.5" width="8.65" height="1" fill="#fdd"/>
<rect x="131.00" y="120.5" width="8.65" height="1" fill="#eef"/>
<rect x="131.00" y="121.5" width="8.65" height="1" fill="#fdd"/>
<rect x="131.00" y="123.5" width="8.65" height="1" fill="#fcc"/>
<rect x="131.00" y="124.5" width="8.65" height="1" fill="#fdd"/>
<rect x="131.00" y="128.5" width="8.65" height="1" fill="#fbb"/>
<rect x="131.00" y="133.5" width="8.65" height="1" fill="#fee"/>
<rect x="131.00" y="135.5" width="8.65" height="2" fill="#fee"/>
<rect x="131.00" y="141.5" width="8.65" height="1" fill="#fee"/>
<rect x="131.00" y="142.5" width="8.65" height="1" fill="#eef"/>
<rect x="131.00" y="143.5" width="8.65" height="1" fill="#fee"/>
<rect x="131.00" y="145.5" width="8.65" height="1" fill="#fee"/>
<rect x="131.00" y="147.5" width="8.65" height="1" fill="#fee"/>
<rect x="131.00" y="150.5" width="8.65" height="1" fill="#ddf"/>
<rect x="131.00" y="153.5" width="8.65" height="1" fill="#fee"/>
<rect x="131.00" y="163.5" width="8.65" height="1" fill="#fee"/>
<rect x="131.00" y="167.5" width="8.65" height="1" fill="#fee"/>
<rect x="131.00" y="168.5" width="8.65" height="1" fill="#eef"/>
<rect x="131.00" y="177.5" width="8.65" height="1" fill="#fee"/>
<rect x="131.00" y="189.5" width="8.65" height="1" fill="#eef"/>
<rect x="131.00" y="206.5" width="8.65" height="1" fill="#f99"/>
<rect x="131.00" y="207.5" width="8.65" height="1" fill="#fbb"/>
<rect x="139.60" y="38.5" width="8.65" height="1" fill="#f11"/>
<rect x="139.60" y="39.5" width="8.65" height="11" fill="#f00"/>
<rect x="139.60" y="50.5" width="8.65" height="1" fill="#f33"/>
<rect x="139.60" y="51.5" width="8.65" height="2" fill="#f00"/>
<rect x="139.60" y="53.5" width="8.65" height="1" fill="#f33"/>
<rect x="139.60" y="54.5" width="8.65" height="1" fill="#f00"/>
<rect x="139.60" y="55.5" width="8.65" height="2" fill="#f11"/>
<rect x="139.60" y="57.5" width="8.65" height="1" fill="#f77"/>
<rect x="139.60" y="58.5" width="8.65" height="1" fill="#fee"/>
<rect x="139.60" y="59.5" width="8.65" height="1" fill="#f88"/>
<rect x="139.60" y="60.5" width="8.65" height="1" fill="#faa"/>
<rect x="139.60" y="61.5" width="8.65" height="1" fill="#f00"/>
<rect x="139.60" y="62.5" width="8.65" height="1" fill="#f33"/>
<rect x="139.60" y="63.5" width="8.65" height="1" fill="#f55"/>
<rect x="139.60" y="64.5" width="8.65" height="1" fill="#f66"/>
<rect x="139.60" y="65.5" width="8.65" height="1" fill="#fdd"/>
<rect x="139.60" y="66.5" width="8.65" height="1" fill="#f66"/>
<rect x="139.60" y="67.5" width="8.65" height="1" fill="#f11"/>
<rect x="139.60" y="68.5" width="8.65" height="1" fill="#f00"/>
<rect x="139.60" y="69.5" width="8.65" height="1" fill="#fee"/>
<rect x="139.60" y="70.5" width="8.65" height="1" fill="#f88"/>
<rect x="139.60" y="71.5" width="8.65" height="1" fill="#faa"/>
<rect x="139.60" y="72.5" width="8.65" height="1" fill="#fee"/>
<rect x="139.60" y="73.5" width="8.65" height="1" fill="#f88"/>
<rect x="139.60" y="74.5" width="8.65" height="1" fill="#f44"/>
<rect x="139.60" y="75.5" width="8.65" height="1" fill="#fbb"/>
<rect x="139.60" y="76.5" width="8.65" height="1" fill="#fdd"/>
<rect x="139.60" y="77.5" width="8.65" height="1" fill="#fee"/>
<rect x="139.60" y="78.5" width="8.65" height="1" fill="#f99"/>
<rect x="139.60" y="79.5" width="8.65" height="1" fill="#f44"/>
<rect x="139.60" y="80.5" width="8.65" height="1" fill="#f33"/>
<rect x="139.60" y="81.5" width="8.65" height="1" fill="#f99"/>
<rect x="139.60" y="82.5" width="8.65" height="1" fill="#fee"/>
<rect x="139.60" y="83.5" width="8.65" height="1" fill="#f99"/>
<rect x="139.60" y="84.5" width="8.65" height="1" fill="#faa"/>
<rect x="139.60" y="85.5" width="8.65" height="1" fill="#f77"/>
<rect x="139.60" y="86.5" width="8.65" height="1" fill="#fee"/>
<rect x="139.60" y="87.5" width="8.65" height="1" fill="#fbb"/>
<rect x="139.60" y="88.5" width="8.65" height="2" fill="#fee"/>
<rect x="139.60" y="91.5" width="8.65" height="1" fill="#f88"/>
<rect x="139.60" y="92.5" width="8.65" height="2" fill="#fbb"/>
<rect x="139.60" y="94.5" width="8.65" height="1" fill="#fdd"/>
<rect x="139.60" y="95.5" width="8.65" height="1" fill="#fcc"/>
<rect x="139.60" y="98.5" width="8.65" height="1" fill="#fbb"/>
<rect x="139.60" y="100.5" width="8.65" height="1" fill="#fbb"/>
<rect x="139.60" y="102.5" width="8.65" height="1" fill="#eef"/>
<rect x="139.60" y="103.5" width="8.65" height="1" fill="#fbb"/>
<rect x="139.60" y="105.5" width="8.65" height="1" fill="#fee"/>
<rect x="139.60" y="108.5" width="8.65" height="1" fill="#fbb"/>
<rect x="139.60" y="112.5" width="8.65" height="1" fill="#fcc"/>
<rect x="139.60" y="114.5" width="8.65" height="1" fill="#fbb"/>
<rect x="139.60" y="115.5" width="8.65" height="1" fill="#fee"/>
<rect x="139.60" y="119.5" width="8.65" height="1" fill="#fdd"/>
<rect x="139.60" y="120.5" width="8.65" height="1" fill="#fee"/>
<rect x="139.60" y="122.5" width="8.65" height="1" fill="#fdd"/>
<rect x="139.60" y="127.5" width="8.65" height="1" fill="#fee"/>
<rect x="139.60" y="128.5" width="8.65" height="1" fill="#ddf"/>
<rect x="139.60" y="133.5" width="8.65" height="1" fill="#fdd"/>
<rect x="139.60" y="137.5" width="8.65" height="1" fill="#fee"/>
<rect x="139.60" y="141.5" width="8.65" height="1" fill="#fdd"/>
<rect x="139.60" y="147.5" width="8.65" height="1" fill="#fee"/>
<rect x="139.60" y="151.5" width="8.65" height="1" fill="#fee"/>
<rect x="139.60" y="155.5" width="8.65" height="1" fill="#fdd"/>
<rect x="139.60" y="165.5" width="8.65" height="1" fill="#fee"/>
<rect x="139.60" y="171.5" width="8.65" height="1" fill="#fee"/>
<rect x="139.60" y="190.5" width="8.65" height="1" fill="#eef"/>
<rect x="148.20" y="38.5" width="8.65" height="1" fill="#f44"/>
<rect x="148.20" y="39.5" width="8.65" height="8" fill="#f00"/>
<rect x="148.20" y="47.5" width="8.65" height="2" fill="#f11"/>
<rect x="148.20" y="49.5" width="8.65" height="1" fill="#f00"/>
<rect x="148.20" y="50.5" width="8.65" height="1" fill="#f11"/>
<rect x="148.20" y="51.5" width="8.65" height="2" fill="#f00"/>
<rect x="148.20" y="53.5" width="8.65" height="1" fill="#f88"/>
<rect x="148.20" y="54.5" width="8.65" height="1" fill="#fcc"/>
<rect x="148.20" y="55.5" width="8.65" height="1" fill="#f00"/>
<rect x="148.20" y="56.5" width="8.65" height="1" fill="#fee"/>
<rect x="148.20" y="57.5" width="8.65" height="3" fill="#f00"/>
<rect x="148.20" y="60.5" width="8.65" height="1" fill="#f88"/>
<rect x="148.20" y="61.5" width="8.65" height="1" fill="#f00"/>
<rect x="148.20" y="62.5" width="8.65" height="1" fill="#f99"/>
<rect x="148.20" y="63.5" width="8.65" height="1" fill="#f66"/>
<rect x="148.20" y="64.5" width="8.65" height="1" fill="#faa"/>
<rect x="148.20" y="65.5" width="8.65" height="1" fill="#f77"/>
<rect x="148.20" y="66.5" width="8.65" height="1" fill="#f88"/>
<rect x="148.20" y="67.5" width="8.65" height="1" fill="#f99"/>
<rect x="148.20" y="68.5" width="8.65" height="1" fill="#f66"/>
<rect x="148.20" y="69.5" width="8.65" height="1" fill="#fee"/>
<rect x="148.20" y="70.5" width="8.65" height="1" fill="#f00"/>
<rect x="148.20" y="71.5" width="8.65" height="1" fill="#f99"/>
<rect x="148.20" y="72.5" width="8.65" height="1" fill="#fee"/>
<rect x="148.20" y="73.5" width="8.65" height="1" fill="#f88"/>
<rect x="148.20" y="75.5" width="8.65" height="1" fill="#f99"/>
<rect x="148.20" y="76.5" width="8.65" height="1" fill="#fee"/>
<rect x="148.20" y="77.5" width="8.65" height="1" fill="#f66"/>
<rect x="148.20" y="78.5" width="8.65" height="1" fill="#faa"/>
<rect x="148.20" y="79.5" width="8.65" height="1" fill="#fee"/>
<rect x="148.20" y="80.5" width="8.65" height="1" fill="#ddf"/>
<rect x="148.20" y="81.5" width="8.65" height="1" fill="#f77"/>
<rect x="148.20" y="82.5" width="8.65" height="2" fill="#fee"/>
<rect x="148.20" y="84.5" width="8.65" height="1" fill="#fdd"/>
<rect x="148.20" y="85.5" width="8.65" height="1" fill="#f77"/>
<rect x="148.20" y="86.5" width="8.65" height="1" fill="#ddf"/>
<rect x="148.20" y="87.5" width="8.65" height="1" fill="#fee"/>
<rect x="148.20" y="89.5" width="8.65" height="2" fill="#fee"/>
<rect x="148.20" y="91.5" width="8.65" height="1" fill="#faa"/>
<rect x="148.20" y="92.5" width="8.65" height="1" fill="#fcc"/>
<rect x="148.20" y="93.5" width="8.65" height="1" fill="#faa"/>
<rect x="148.20" y="94.5" width="8.65" height="1" fill="#fdd"/>
<rect x="148.20" y="98.5" width="8.65" height="1" fill="#fcc"/>
<rect x="148.20" y="100.5" width="8.65" height="1" fill="#faa"/>
<rect x="148.20" y="101.5" width="8.65" height="1" fill="#fee"/>
<rect x="148.20" y="103.5" width="8.65" height="1" fill="#fdd"/>
<rect x="148.20" y="105.5" width="8.65" height="1" fill="#fdd"/>
<rect x="148.20" y="109.5" width="8.65" height="1" fill="#fbb"/>
<rect x="148.20" y="110.5" width="8.65" height="1" fill="#fee"/>
<rect x="148.20" y="114.5" width="8.65" height="2" fill="#fdd"/>
<rect x="148.20" y="119.5" width="8.65" height="1" fill="#fee"/>
<rect x="148.20" y="124.5" width="8.65" height="1" fill="#ddf"/>
<rect x="148.20" y="129.5" width="8.65" height="1" fill="#fdd"/>
<rect x="148.20" y="130.5" width="8.65" height="1" fill="#fee"/>
<rect x="148.20" y="132.5" width="8.65" height="1" fill="#fee"/>
<rect x="148.20" y="135.5" width="8.65" height="2" fill="#fee"/>
<rect x="148.20" y="138.5" width="8.65" height="1" fill="#fee"/>
<rect x="148.20" y="141.5" width="8.65" height="1" fill="#fee"/>
<rect x="148.20" y="144.5" width="8.65" height="1" fill="#fee"/>
<rect x="148.20" y="147.5" width="8.65" height="1" fill="#fdd"/>
<rect x="148.20" y="151.5" width="8.65" height="1" fill="#fee"/>
<rect x="148.20" y="174.5" width="8.65" height="1" fill="#fee"/>
<rect x="148.20" y="183.5" width="8.65" height="1" fill="#fee"/>
<rect x="148.20" y="192.5" width="8.65" height="1" fill="#fee"/>
<rect x="148.20" y="206.5" width="8.65" height="1" fill="#f99"/>
<rect x="148.20" y="207.5" width="8.65" height="1" fill="#fbb"/>
<rect x="156.80" y="38.5" width="8.62" height="15" fill="#f00"/>
<rect x="156.80" y="53.5" width="8.62" height="1" fill="#fcc"/>
<rect x="156.80" y="54.5" width="8.62" height="5" fill="#f00"/>
<rect x="156.80" y="59.5" width="8.62" height="2" fill="#f22"/>
<rect x="156.80" y="61.5" width="8.62" height="1" fill="#f00"/>
<rect x="156.80" y="62.5" width="8.62" height="1" fill="#f55"/>
<rect x="156.80" y="63.5" width="8.62" height="1" fill="#fdd"/>
<rect x="156.80" y="64.5" width="8.62" height="1" fill="#f22"/>
<rect x="156.80" y="65.5" width="8.62" height="1" fill="#f55"/>
<rect x="156.80" y="66.5" width="8.62" height="1" fill="#fee"/>
<rect x="156.80" y="67.5" width="8.62" height="1" fill="#f66"/>
<rect x="156.80" y="68.5" width="8.62" height="1" fill="#fee"/>
<rect x="156.80" y="69.5" width="8.62" height="1" fill="#f33"/>
<rect x="156.80" y="70.5" width="8.62" height="1" fill="#f11"/>
<rect x="156.80" y="71.5" width="8.62" height="1" fill="#f00"/>
<rect x="156.80" y="72.5" width="8.62" height="1" fill="#f11"/>
<rect x="156.80" y="73.5" width="8.62" height="1" fill="#f88"/>
<rect x="156.80" y="74.5" width="8.62" height="1" fill="#fee"/>
<rect x="156.80" y="75.5" width="8.62" height="1" fill="#faa"/>
<rect x="156.80" y="76.5" width="8.62" height="1" fill="#f55"/>
<rect x="156.80" y="77.5" width="8.62" height="1" fill="#f66"/>
<rect x="156.80" y="78.5" width="8.62" height="1" fill="#fee"/>
<rect x="156.80" y="79.5" width="8.62" height="1" fill="#f33"/>
<rect x="156.80" y="80.5" width="8.62" height="1" fill="#fee"/>
<rect x="156.80" y="81.5" width="8.62" height="1" fill="#faa"/>
<rect x="156.80" y="82.5" width="8.62" height="1" fill="#fee"/>
<rect x="156.80" y="83.5" width="8.62" height="1" fill="#fcc"/>
<rect x="156.80" y="84.5" width="8.62" height="1" fill="#faa"/>
<rect x="156.80" y="85.5" width="8.62" height="1" fill="#fee"/>
<rect x="156.80" y="86.5" width="8.62" height="2" fill="#f44"/>
<rect x="156.80" y="88.5" width="8.62" height="1" fill="#f99"/>
<rect x="156.80" y="89.5" width="8.62" height="1" fill="#fdd"/>
<rect x="156.80" y="90.5" width="8.62" height="1" fill="#fee"/>
<rect x="156.80" y="91.5" width="8.62" height="1" fill="#fcc"/>
<rect x="156.80" y="92.5" width="8.62" height="1" fill="#f99"/>
<rect x="156.80" y="93.5" width="8.62" height="1" fill="#f55"/>
<rect x="156.80" y="94.5" width="8.62" height="1" fill="#fee"/>
<rect x="156.80" y="97.5" width="8.62" height="1" fill="#fcc"/>
<rect x="156.80" y="98.5" width="8.62" height="1" fill="#faa"/>
<rect x="156.80" y="99.5" width="8.62" height="3" fill="#fee"/>
<rect x="156.80" y="104.5" width="8.62" height="1" fill="#fdd"/>
<rect x="156.80" y="106.5" width="8.62" height="1" fill="#fbb"/>
<rect x="156.80" y="108.5" width="8.62" height="1" fill="#fee"/>
<rect x="156.80" y="109.5" width="8.62" height="1" fill="#fbb"/>
<rect x="156.80" y="110.5" width="8.62" height="1" fill="#faa"/>
<rect x="156.80" y="115.5" width="8.62" height="1" fill="#fee"/>
<rect x="156.80" y="117.5" width="8.62" height="1" fill="#eef"/>
<rect x="156.80" y="120.5" width="8.62" height="1" fill="#f88"/>
<rect x="156.80" y="121.5" width="8.62" height="1" fill="#fbb"/>
<rect x="156.80" y="122.5" width="8.62" height="1" fill="#fdd"/>
<rect x="156.80" y="123.5" width="8.62" height="1" fill="#fee"/>
<rect x="156.80" y="124.5" width="8.62" height="1" fill="#fdd"/>
<rect x="156.80" y="128.5" width="8.62" height="3" fill="#fdd"/>
<rect x="156.80" y="134.5" width="8.62" height="1" fill="#fdd"/>
<rect x="156.80" y="138.5" width="8.62" height="1" fill="#fdd"/>
<rect x="156.80" y="142.5" width="8.62" height="1" fill="#eef"/>
<rect x="156.80" y="145.5" width="8.62" height="2" fill="#fee"/>
<rect x="156.80" y="149.5" width="8.62" height="1" fill="#fee"/>
<rect x="156.80" y="151.5" width="8.62" height="1" fill="#fee"/>
<rect x="156.80" y="156.5" width="8.62" height="1" fill="#fee"/>
<rect x="156.80" y="163.5" width="8.62" height="1" fill="#fdd"/>
<rect x="165.37" y="38.5" width="8.62" height="15" fill="#f00"/>
<rect x="165.37" y="53.5" width="8.62" height="1" fill="#f99"/>
<rect x="165.37" y="54.5" width="8.62" height="9" fill="#f00"/>
<rect x="165.37" y="63.5" width="8.62" height="1" fill="#faa"/>
<rect x="165.37" y="64.5" width="8.62" height="3" fill="#f00"/>
<rect x="165.37" y="67.5" width="8.62" height="1" fill="#fcc"/>
<rect x="165.37" y="68.5" width="8.62" height="5" fill="#f00"/>
<rect x="165.37" y="73.5" width="8.62" height="1" fill="#f11"/>
<rect x="165.37" y="74.5" width="8.62" height="1" fill="#fcc"/>
<rect x="165.37" y="75.5" width="8.62" height="3" fill="#f00"/>
<rect x="165.37" y="78.5" width="8.62" height="1" fill="#fee"/>
<rect x="165.37" y="79.5" width="8.62" height="1" fill="#f00"/>
<rect x="165.37" y="80.5" width="8.62" height="1" fill="#f22"/>
<rect x="165.37" y="81.5" width="8.62" height="2" fill="#f00"/>
<rect x="165.37" y="83.5" width="8.62" height="1" fill="#f55"/>
<rect x="165.37" y="84.5" width="8.62" height="1" fill="#f99"/>
<rect x="165.37" y="85.5" width="8.62" height="1" fill="#fdd"/>
<rect x="165.37" y="86.5" width="8.62" height="1" fill="#f33"/>
<rect x="165.37" y="87.5" width="8.62" height="1" fill="#faa"/>
<rect x="165.37" y="88.5" width="8.62" height="1" fill="#f00"/>
<rect x="165.37" y="89.5" width="8.62" height="1" fill="#fcc"/>
<rect x="165.37" y="90.5" width="8.62" height="1" fill="#ddf"/>
<rect x="165.37" y="91.5" width="8.62" height="1" fill="#f77"/>
<rect x="165.37" y="92.5" width="8.62" height="1" fill="#f00"/>
<rect x="165.37" y="93.5" width="8.62" height="1" fill="#f11"/>
<rect x="165.37" y="94.5" width="8.62" height="1" fill="#f33"/>
<rect x="165.37" y="95.5" width="8.62" height="1" fill="#f99"/>
<rect x="165.37" y="96.5" width="8.62" height="1" fill="#fee"/>
<rect x="165.37" y="97.5" width="8.62" height="1" fill="#f11"/>
<rect x="165.37" y="98.5" width="8.62" height="1" fill="#f44"/>
<rect x="165.37" y="99.5" width="8.62" height="1" fill="#fee"/>
<rect x="165.37" y="100.5" width="8.62" height="1" fill="#f33"/>
<rect x="165.37" y="101.5" width="8.62" height="1" fill="#f00"/>
<rect x="165.37" y="102.5" width="8.62" height="1" fill="#f55"/>
<rect x="165.37" y="104.5" width="8.62" height="1" fill="#faa"/>
<rect x="165.37" y="105.5" width="8.62" height="1" fill="#fee"/>
<rect x="165.37" y="106.5" width="8.62" height="1" fill="#fdd"/>
<rect x="165.37" y="107.5" width="8.62" height="1" fill="#fee"/>
<rect x="165.37" y="108.5" width="8.62" height="1" fill="#f00"/>
<rect x="165.37" y="109.5" width="8.62" height="1" fill="#f77"/>
<rect x="165.37" y="110.5" width="8.62" height="1" fill="#f22"/>
<rect x="165.37" y="111.5" width="8.62" height="1" fill="#f88"/>
<rect x="165.37" y="112.5" width="8.62" height="1" fill="#faa"/>
<rect x="165.37" y="113.5" width="8.62" height="1" fill="#f99"/>
<rect x="165.37" y="114.5" width="8.62" height="1" fill="#fcc"/>
<rect x="165.37" y="115.5" width="8.62" height="2" fill="#fee"/>
<rect x="165.37" y="117.5" width="8.62" height="1" fill="#faa"/>
<rect x="165.37" y="119.5" width="8.62" height="1" fill="#f99"/>
<rect x="165.37" y="120.5" width="8.62" height="1" fill="#f33"/>
<rect x="165.37" y="121.5" width="8.62" height="1" fill="#fdd"/>
<rect x="165.37" y="122.5" width="8.62" height="1" fill="#f99"/>
<rect x="165.37" y="123.5" width="8.62" height="1" fill="#f00"/>
<rect x="165.37" y="124.5" width="8.62" height="1" fill="#f44"/>
<rect x="165.37" y="127.5" width="8.62" height="2" fill="#fee"/>
<rect x="165.37" y="130.5" width="8.62" height="1" fill="#f77"/>
<rect x="165.37" y="131.5" width="8.62" height="1" fill="#fee"/>
<rect x="165.37" y="132.5" width="8.62" height="1" fill="#faa"/>
<rect x="165.37" y="134.5" width="8.62" height="1" fill="#faa"/>
<rect x="165.37" y="135.5" width="8.62" height="2" fill="#fee"/>
<rect x="165.37" y="137.5" width="8.62" height="1" fill="#f99"/>
<rect x="165.37" y="138.5" width="8.62" height="2" fill="#fcc"/>
<rect x="165.37" y="141.5" width="8.62" height="2" fill="#fcc"/>
<rect x="165.37" y="143.5" width="8.62" height="1" fill="#fbb"/>
<rect x="165.37" y="145.5" width="8.62" height="1" fill="#fdd"/>
<rect x="165.37" y="146.5" width="8.62" height="1" fill="#fcc"/>
<rect x="165.37" y="148.5" width="8.62" height="1" fill="#fbb"/>
<rect x="165.37" y="149.5" width="8.62" height="1" fill="#eef"/>
<rect x="165.37" y="150.5" width="8.62" height="1" fill="#fdd"/>
<rect x="165.37" y="151.5" width="8.62" height="1" fill="#fcc"/>
<rect x="165.37" y="152.5" width="8.62" height="1" fill="#fdd"/>
<rect x="165.37" y="154.5" width="8.62" height="1" fill="#fdd"/>
<rect x="165.37" y="156.5" width="8.62" height="2" fill="#fdd"/>
<rect x="165.37" y="162.5" width="8.62" height="1" fill="#fcc"/>
<rect x="165.37" y="163.5" width="8.62" height="1" fill="#fdd"/>
<rect x="165.37" y="164.5" width="8.62" height="1" fill="#fee"/>
<rect x="165.37" y="173.5" width="8.62" height="1" fill="#fee"/>
<rect x="165.37" y="175.5" width="8.62" height="2" fill="#fee"/>
<rect x="165.37" y="180.5" width="8.62" height="1" fill="#fdd"/>
<rect x="165.37" y="198.5" width="8.62" height="1" fill="#eef"/>
<rect x="165.37" y="205.5" width="8.62" height="1" fill="#aaf"/>
<rect x="165.37" y="206.5" width="8.62" height="1" fill="#99f"/>
<rect x="173.93" y="38.5" width="8.62" height="19" fill="#f00"/>
<rect x="173.93" y="57.5" width="8.62" height="1" fill="#fbb"/>
<rect x="173.93" y="58.5" width="8.62" height="1" fill="#f55"/>
<rect x="173.93" y="59.5" width="8.62" height="1" fill="#f44"/>
<rect x="173.93" y="60.5" width="8.62" height="1" fill="#fdd"/>
<rect x="173.93" y="61.5" width="8.62" height="2" fill="#f00"/>
<rect x="173.93" y="63.5" width="8.62" height="1" fill="#f88"/>
<rect x="173.93" y="64.5" width="8.62" height="1" fill="#f44"/>
<rect x="173.93" y="65.5" width="8.62" height="1" fill="#f00"/>
<rect x="173.93" y="66.5" width="8.62" height="1" fill="#f22"/>
<rect x="173.93" y="67.5" width="8.62" height="1" fill="#f00"/>
<rect x="173.93" y="69.5" width="8.62" height="1" fill="#f99"/>
<rect x="173.93" y="70.5" width="8.62" height="2" fill="#f00"/>
<rect x="173.93" y="72.5" width="8.62" height="1" fill="#f66"/>
<rect x="173.93" y="73.5" width="8.62" height="1" fill="#faa"/>
<rect x="173.93" y="74.5" width="8.62" height="1" fill="#fdd"/>
<rect x="173.93" y="75.5" width="8.62" height="1" fill="#ddf"/>
<rect x="173.93" y="76.5" width="8.62" height="1" fill="#fdd"/>
<rect x="173.93" y="77.5" width="8.62" height="1" fill="#f33"/>
<rect x="173.93" y="78.5" width="8.62" height="1" fill="#fee"/>
<rect x="173.93" y="79.5" width="8.62" height="1" fill="#f66"/>
<rect x="173.93" y="80.5" width="8.62" height="1" fill="#fcc"/>
<rect x="173.93" y="81.5" width="8.62" height="1" fill="#f99"/>
<rect x="173.93" y="82.5" width="8.62" height="1" fill="#fee"/>
<rect x="173.93" y="83.5" width="8.62" height="1" fill="#f44"/>
<rect x="173.93" y="84.5" width="8.62" height="1" fill="#fcc"/>
<rect x="173.93" y="86.5" width="8.62" height="1" fill="#fee"/>
<rect x="173.93" y="87.5" width="8.62" height="1" fill="#faa"/>
<rect x="173.93" y="88.5" width="8.62" height="1" fill="#fee"/>
<rect x="173.93" y="89.5" width="8.62" height="1" fill="#f66"/>
<rect x="173.93" y="91.5" width="8.62" height="1" fill="#fcc"/>
<rect x="173.93" y="92.5" width="8.62" height="1" fill="#f55"/>
<rect x="173.93" y="93.5" width="8.62" height="1" fill="#fee"/>
<rect x="173.93" y="94.5" width="8.62" height="1" fill="#f99"/>
<rect x="173.93" y="95.5" width="8.62" height="1" fill="#fdd"/>
<rect x="173.93" y="97.5" width="8.62" height="1" fill="#fdd"/>
<rect x="173.93" y="98.5" width="8.62" height="1" fill="#fbb"/>
<rect x="173.93" y="100.5" width="8.62" height="1" fill="#fbb"/>
<rect x="173.93" y="101.5" width="8.62" height="1" fill="#fee"/>
<rect x="173.93" y="102.5" width="8.62" height="1" fill="#fcc"/>
<rect x="173.93" y="104.5" width="8.62" height="1" fill="#fdd"/>
<rect x="173.93" y="106.5" width="8.62" height="1" fill="#fdd"/>
<rect x="173.93" y="107.5" width="8.62" height="1" fill="#fcc"/>
<rect x="173.93" y="108.5" width="8.62" height="1" fill="#f77"/>
<rect x="173.93" y="109.5" width="8.62" height="2" fill="#faa"/>
<rect x="173.93" y="111.5" width="8.62" height="1" fill="#fbb"/>
<rect x="173.93" y="113.5" width="8.62" height="1" fill="#fbb"/>
<rect x="173.93" y="114.5" width="8.62" height="1" fill="#faa"/>
<rect x="173.93" y="117.5" width="8.62" height="1" fill="#fdd"/>
<rect x="173.93" y="120.5" width="8.62" height="1" fill="#fcc"/>
<rect x="173.93" y="121.5" width="8.62" height="1" fill="#fee"/>
<rect x="173.93" y="125.5" width="8.62" height="2" fill="#fee"/>
<rect x="173.93" y="127.5" width="8.62" height="1" fill="#fdd"/>
<rect x="173.93" y="128.5" width="8.62" height="1" fill="#eef"/>
<rect x="173.93" y="130.5" width="8.62" height="1" fill="#fdd"/>
<rect x="173.93" y="132.5" width="8.62" height="1" fill="#eef"/>
<rect x="173.93" y="134.5" width="8.62" height="1" fill="#fee"/>
<rect x="173.93" y="136.5" width="8.62" height="1" fill="#ddf"/>
<rect x="173.93" y="138.5" width="8.62" height="1" fill="#fee"/>
<rect x="173.93" y="141.5" width="8.62" height="1" fill="#fee"/>
<rect x="173.93" y="145.5" width="8.62" height="1" fill="#fdd"/>
<rect x="173.93" y="146.5" width="8.62" height="1" fill="#eef"/>
<rect x="173.93" y="151.5" width="8.62" height="2" fill="#fee"/>
<rect x="173.93" y="156.5" width="8.62" height="2" fill="#fdd"/>
<rect x="173.93" y="163.5" width="8.62" height="1" fill="#fee"/>
<rect x="173.93" y="177.5" width="8.62" height="1" fill="#fdd"/>
<rect x="173.93" y="200.5" width="8.62" height="1" fill="#eef"/>
<rect x="182.50" y="38.5" width="8.48" height="10" fill="#f00"/>
<rect x="182.50" y="48.5" width="8.48" height="1" fill="#f11"/>
<rect x="182.50" y="49.5" width="8.48" height="4" fill="#f00"/>
<rect x="182.50" y="53.5" width="8.48" height="1" fill="#f33"/>
<rect x="182.50" y="54.5" width="8.48" height="1" fill="#f77"/>
<rect x="182.50" y="55.5" width="8.48" height="4" fill="#f00"/>
<rect x="182.50" y="59.5" width="8.48" height="1" fill="#f77"/>
<rect x="182.50" y="60.5" width="8.48" height="1" fill="#f66"/>
<rect x="182.50" y="61.5" width="8.48" height="1" fill="#f77"/>
<rect x="182.50" y="62.5" width="8.48" height="3" fill="#f00"/>
<rect x="182.50" y="65.5" width="8.48" height="1" fill="#f33"/>
<rect x="182.50" y="66.5" width="8.48" height="1" fill="#f88"/>
<rect x="182.50" y="67.5" width="8.48" height="2" fill="#f00"/>
<rect x="182.50" y="69.5" width="8.48" height="1" fill="#f55"/>
<rect x="182.50" y="70.5" width="8.48" height="1" fill="#f00"/>
<rect x="182.50" y="71.5" width="8.48" height="1" fill="#f44"/>
<rect x="182.50" y="72.5" width="8.48" height="1" fill="#f55"/>
<rect x="182.50" y="73.5" width="8.48" height="1" fill="#f99"/>
<rect x="182.50" y="74.5" width="8.48" height="1" fill="#f88"/>
<rect x="182.50" y="75.5" width="8.48" height="1" fill="#fee"/>
<rect x="182.50" y="76.5" width="8.48" height="1" fill="#f11"/>
<rect x="182.50" y="77.5" width="8.48" height="1" fill="#f77"/>
<rect x="182.50" y="78.5" width="8.48" height="1" fill="#fbb"/>
<rect x="182.50" y="79.5" width="8.48" height="1" fill="#f99"/>
<rect x="182.50" y="80.5" width="8.48" height="1" fill="#f00"/>
<rect x="182.50" y="81.5" width="8.48" height="1" fill="#f99"/>
<rect x="182.50" y="82.5" width="8.48" height="1" fill="#ddf"/>
<rect x="182.50" y="83.5" width="8.48" height="1" fill="#fee"/>
<rect x="182.50" y="84.5" width="8.48" height="1" fill="#f77"/>
<rect x="182.50" y="85.5" width="8.48" height="2" fill="#fbb"/>
<rect x="182.50" y="87.5" width="8.48" height="1" fill="#f44"/>
<rect x="182.50" y="88.5" width="8.48" height="1" fill="#f99"/>
<rect x="182.50" y="89.5" width="8.48" height="1" fill="#f77"/>
<rect x="182.50" y="90.5" width="8.48" height="1" fill="#fcc"/>
<rect x="182.50" y="92.5" width="8.48" height="1" fill="#f88"/>
<rect x="182.50" y="93.5" width="8.48" height="1" fill="#fbb"/>
<rect x="182.50" y="94.5" width="8.48" height="1" fill="#f77"/>
<rect x="182.50" y="96.5" width="8.48" height="1" fill="#faa"/>
<rect x="182.50" y="97.5" width="8.48" height="1" fill="#fbb"/>
<rect x="182.50" y="98.5" width="8.48" height="1" fill="#fdd"/>
<rect x="182.50" y="99.5" width="8.48" height="1" fill="#f88"/>
<rect x="182.50" y="100.5" width="8.48" height="2" fill="#fbb"/>
<rect x="182.50" y="102.5" width="8.48" height="1" fill="#fdd"/>
<rect x="182.50" y="103.5" width="8.48" height="1" fill="#fcc"/>
<rect x="182.50" y="105.5" width="8.48" height="1" fill="#fcc"/>
<rect x="182.50" y="106.5" width="8.48" height="1" fill="#fbb"/>
<rect x="182.50" y="107.5" width="8.48" height="1" fill="#fdd"/>
<rect x="182.50" y="109.5" width="8.48" height="1" fill="#fdd"/>
<rect x="182.50" y="111.5" width="8.48" height="1" fill="#faa"/>
<rect x="182.50" y="115.5" width="8.48" height="1" fill="#faa"/>
<rect x="182.50" y="116.5" width="8.48" height="2" fill="#fcc"/>
<rect x="182.50" y="119.5" width="8.48" height="1" fill="#fee"/>
<rect x="182.50" y="121.5" width="8.48" height="1" fill="#eef"/>
<rect x="182.50" y="123.5" width="8.48" height="1" fill="#fcc"/>
<rect x="182.50" y="124.5" width="8.48" height="1" fill="#faa"/>
<rect x="182.50" y="128.5" width="8.48" height="1" fill="#fdd"/>
<rect x="182.50" y="129.5" width="8.48" height="2" fill="#fee"/>
<rect x="182.50" y="133.5" width="8.48" height="1" fill="#fdd"/>
<rect x="182.50" y="137.5" width="8.48" height="1" fill="#ddf"/>
<rect x="182.50" y="142.5" width="8.48" height="1" fill="#fee"/>
<rect x="182.50" y="157.5" width="8.48" height="1" fill="#fee"/>
<rect x="182.50" y="163.5" width="8.48" height="1" fill="#fee"/>
<rect x="182.50" y="164.5" width="8.48" height="1" fill="#fdd"/>
<rect x="182.50" y="167.5" width="8.48" height="1" fill="#fee"/>
<rect x="182.50" y="190.5" width="8.48" height="1" fill="#eef"/>
<rect x="190.93" y="38.5" width="8.48" height="12" fill="#f00"/>
<rect x="190.93" y="50.5" width="8.48" height="1" fill="#fdd"/>
<rect x="190.93" y="51.5" width="8.48" height="1" fill="#f00"/>
<rect x="190.93" y="52.5" width="8.48" height="1" fill="#fcc"/>
<rect x="190.93" y="53.5" width="8.48" height="1" fill="#f00"/>
<rect x="190.93" y="54.5" width="8.48" height="1" fill="#f33"/>
<rect x="190.93" y="55.5" width="8.48" height="2" fill="#f00"/>
<rect x="190.93" y="57.5" width="8.48" height="1" fill="#fcc"/>
<rect x="190.93" y="58.5" width="8.48" height="3" fill="#f00"/>
<rect x="190.93" y="61.5" width="8.48" height="1" fill="#f77"/>
<rect x="190.93" y="62.5" width="8.48" height="3" fill="#f00"/>
<rect x="190.93" y="65.5" width="8.48" height="1" fill="#f11"/>
<rect x="190.93" y="66.5" width="8.48" height="1" fill="#fee"/>
<rect x="190.93" y="67.5" width="8.48" height="1" fill="#f00"/>
<rect x="190.93" y="68.5" width="8.48" height="1" fill="#f77"/>
<rect x="190.93" y="69.5" width="8.48" height="1" fill="#f55"/>
<rect x="190.93" y="70.5" width="8.48" height="1" fill="#f00"/>
<rect x="190.93" y="71.5" width="8.48" height="1" fill="#f22"/>
<rect x="190.93" y="72.5" width="8.48" height="1" fill="#fbb"/>
<rect x="190.93" y="73.5" width="8.48" height="1" fill="#f99"/>
<rect x="190.93" y="74.5" width="8.48" height="1" fill="#fee"/>
<rect x="190.93" y="75.5" width="8.48" height="1" fill="#fdd"/>
<rect x="190.93" y="76.5" width="8.48" height="1" fill="#f22"/>
<rect x="190.93" y="77.5" width="8.48" height="1" fill="#f99"/>
<rect x="190.93" y="78.5" width="8.48" height="1" fill="#faa"/>
<rect x="190.93" y="79.5" width="8.48" height="1" fill="#fee"/>
<rect x="190.93" y="80.5" width="8.48" height="1" fill="#fdd"/>
<rect x="190.93" y="81.5" width="8.48" height="2" fill="#f88"/>
<rect x="190.93" y="83.5" width="8.48" height="1" fill="#f55"/>
<rect x="190.93" y="84.5" width="8.48" height="1" fill="#f77"/>
<rect x="190.93" y="85.5" width="8.48" height="1" fill="#f88"/>
<rect x="190.93" y="86.5" width="8.48" height="1" fill="#f55"/>
<rect x="190.93" y="87.5" width="8.48" height="1" fill="#f33"/>
<rect x="190.93" y="88.5" width="8.48" height="1" fill="#f77"/>
<rect x="190.93" y="89.5" width="8.48" height="1" fill="#f00"/>
<rect x="190.93" y="90.5" width="8.48" height="1" fill="#f99"/>
<rect x="190.93" y="92.5" width="8.48" height="1" fill="#fee"/>
<rect x="190.93" y="93.5" width="8.48" height="1" fill="#fcc"/>
<rect x="190.93" y="94.5" width="8.48" height="1" fill="#f77"/>
<rect x="190.93" y="96.5" width="8.48" height="1" fill="#fee"/>
<rect x="190.93" y="97.5" width="8.48" height="1" fill="#f88"/>
<rect x="190.93" y="98.5" width="8.48" height="1" fill="#fbb"/>
<rect x="190.93" y="99.5" width="8.48" height="1" fill="#fee"/>
<rect x="190.93" y="100.5" width="8.48" height="1" fill="#f99"/>
<rect x="190.93" y="101.5" width="8.48" height="1" fill="#faa"/>
<rect x="190.93" y="102.5" width="8.48" height="1" fill="#fdd"/>
<rect x="190.93" y="105.5" width="8.48" height="1" fill="#fbb"/>
<rect x="190.93" y="106.5" width="8.48" height="1" fill="#f66"/>
<rect x="190.93" y="107.5" width="8.48" height="1" fill="#fbb"/>
<rect x="190.93" y="109.5" width="8.48" height="1" fill="#faa"/>
<rect x="190.93" y="113.5" width="8.48" height="1" fill="#fee"/>
<rect x="190.93" y="115.5" width="8.48" height="1" fill="#f88"/>
<rect x="190.93" y="116.5" width="8.48" height="1" fill="#ddf"/>
<rect x="190.93" y="118.5" width="8.48" height="1" fill="#fdd"/>
<rect x="190.93" y="119.5" width="8.48" height="1" fill="#fcc"/>
<rect x="190.93" y="120.5" width="8.48" height="1" fill="#fee"/>
<rect x="190.93" y="123.5" width="8.48" height="1" fill="#eef"/>
<rect x="190.93" y="124.5" width="8.48" height="1" fill="#fcc"/>
<rect x="190.93" y="129.5" width="8.48" height="2" fill="#fdd"/>
<rect x="190.93" y="148.5" width="8.48" height="1" fill="#fcc"/>
<rect x="190.93" y="153.5" width="8.48" height="1" fill="#fdd"/>
<rect x="190.93" y="156.5" width="8.48" height="1" fill="#fdd"/>
<rect x="190.93" y="157.5" width="8.48" height="2" fill="#fee"/>
<rect x="190.93" y="160.5" width="8.48" height="2" fill="#fee"/>
<rect x="190.93" y="176.5" width="8.48" height="1" fill="#fee"/>
<rect x="190.93" y="178.5" width="8.48" height="1" fill="#fee"/>
<rect x="190.93" y="205.5" width="8.48" height="1" fill="#ccf"/>
<rect x="190.93" y="206.5" width="8.48" height="1" fill="#bbf"/>
<rect x="199.37" y="38.5" width="8.48" height="11" fill="#f00"/>
<rect x="199.37" y="49.5" width="8.48" height="1" fill="#f66"/>
<rect x="199.37" y="50.5" width="8.48" height="2" fill="#f00"/>
<rect x="199.37" y="52.5" width="8.48" height="1" fill="#f99"/>
<rect x="199.37" y="53.5" width="8.48" height="1" fill="#f88"/>
<rect x="199.37" y="54.5" width="8.48" height="5" fill="#f00"/>
<rect x="199.37" y="59.5" width="8.48" height="1" fill="#f88"/>
<rect x="199.37" y="60.5" width="8.48" height="2" fill="#f77"/>
<rect x="199.37" y="62.5" width="8.48" height="1" fill="#f33"/>
<rect x="199.37" y="63.5" width="8.48" height="1" fill="#f88"/>
<rect x="199.37" y="64.5" width="8.48" height="1" fill="#f00"/>
<rect x="199.37" y="65.5" width="8.48" height="1" fill="#f44"/>
<rect x="199.37" y="66.5" width="8.48" height="1" fill="#f22"/>
<rect x="199.37" y="67.5" width="8.48" height="2" fill="#f00"/>
<rect x="199.37" y="69.5" width="8.48" height="1" fill="#f66"/>
<rect x="199.37" y="70.5" width="8.48" height="1" fill="#f55"/>
<rect x="199.37" y="71.5" width="8.48" height="1" fill="#f00"/>
<rect x="199.37" y="72.5" width="8.48" height="1" fill="#f44"/>
<rect x="199.37" y="73.5" width="8.48" height="1" fill="#fee"/>
<rect x="199.37" y="74.5" width="8.48" height="1" fill="#f00"/>
<rect x="199.37" y="75.5" width="8.48" height="1" fill="#fee"/>
<rect x="199.37" y="76.5" width="8.48" height="1" fill="#f33"/>
<rect x="199.37" y="77.5" width="8.48" height="1" fill="#f66"/>
<rect x="199.37" y="78.5" width="8.48" height="1" fill="#f99"/>
<rect x="199.37" y="79.5" width="8.48" height="2" fill="#fee"/>
<rect x="199.37" y="81.5" width="8.48" height="1" fill="#f11"/>
<rect x="199.37" y="82.5" width="8.48" height="2" fill="#fee"/>
<rect x="199.37" y="84.5" width="8.48" height="1" fill="#fbb"/>
<rect x="199.37" y="85.5" width="8.48" height="1" fill="#f44"/>
<rect x="199.37" y="86.5" width="8.48" height="1" fill="#f55"/>
<rect x="199.37" y="87.5" width="8.48" height="1" fill="#f88"/>
<rect x="199.37" y="88.5" width="8.48" height="1" fill="#f77"/>
<rect x="199.37" y="89.5" width="8.48" height="1" fill="#f55"/>
<rect x="199.37" y="90.5" width="8.48" height="1" fill="#fcc"/>
<rect x="199.37" y="93.5" width="8.48" height="1" fill="#fcc"/>
<rect x="199.37" y="94.5" width="8.48" height="1" fill="#f77"/>
<rect x="199.37" y="96.5" width="8.48" height="1" fill="#fcc"/>
<rect x="199.37" y="97.5" width="8.48" height="1" fill="#f66"/>
<rect x="199.37" y="98.5" width="8.48" height="1" fill="#f88"/>
<rect x="199.37" y="99.5" width="8.48" height="1" fill="#fee"/>
<rect x="199.37" y="100.5" width="8.48" height="1" fill="#faa"/>
<rect x="199.37" y="101.5" width="8.48" height="1" fill="#fee"/>
<rect x="199.37" y="102.5" width="8.48" height="1" fill="#f99"/>
<rect x="199.37" y="103.5" width="8.48" height="1" fill="#fee"/>
<rect x="199.37" y="104.5" width="8.48" height="1" fill="#fcc"/>
<rect x="199.37" y="105.5" width="8.48" height="1" fill="#faa"/>
<rect x="199.37" y="106.5" width="8.48" height="1" fill="#f99"/>
<rect x="199.37" y="107.5" width="8.48" height="1" fill="#faa"/>
<rect x="199.37" y="108.5" width="8.48" height="1" fill="#fee"/>
<rect x="199.37" y="109.5" width="8.48" height="1" fill="#f88"/>
<rect x="199.37" y="111.5" width="8.48" height="1" fill="#ddf"/>
<rect x="199.37" y="112.5" width="8.48" height="1" fill="#fee"/>
<rect x="199.37" y="113.5" width="8.48" height="1" fill="#faa"/>
<rect x="199.37" y="115.5" width="8.48" height="1" fill="#fee"/>
<rect x="199.37" y="116.5" width="8.48" height="1" fill="#fdd"/>
<rect x="199.37" y="117.5" width="8.48" height="1" fill="#fcc"/>
<rect x="199.37" y="119.5" width="8.48" height="1" fill="#fcc"/>
<rect x="199.37" y="120.5" width="8.48" height="1" fill="#fee"/>
<rect x="199.37" y="124.5" width="8.48" height="1" fill="#fbb"/>
<rect x="199.37" y="129.5" width="8.48" height="2" fill="#fdd"/>
<rect x="199.37" y="134.5" width="8.48" height="1" fill="#eef"/>
<rect x="199.37" y="135.5" width="8.48" height="1" fill="#fdd"/>
<rect x="199.37" y="157.5" width="8.48" height="2" fill="#fee"/>
<rect x="199.37" y="160.5" width="8.48" height="1" fill="#fee"/>
<rect x="199.37" y="164.5" width="8.48" height="1" fill="#fee"/>
<rect x="199.37" y="166.5" width="8.48" height="1" fill="#fee"/>
<rect x="199.37" y="194.5" width="8.48" height="1" fill="#eef"/>
<rect x="54.00" y="38.50" width="25.40" height="170.20" fill="none" stroke="#000" stroke-width="0.9"/>
<rect x="79.40" y="38.50" width="26.00" height="170.20" fill="none" stroke="#000" stroke-width="0.9"/>
<rect x="105.40" y="38.50" width="25.60" height="170.20" fill="none" stroke="#000" stroke-width="0.9"/>
<rect x="131.00" y="38.50" width="25.80" height="170.20" fill="none" stroke="#000" stroke-width="0.9"/>
<rect x="156.80" y="38.50" width="25.70" height="170.20" fill="none" stroke="#000" stroke-width="0.9"/>
<rect x="182.50" y="38.50" width="25.30" height="170.20" fill="none" stroke="#000" stroke-width="0.9"/>
<text class="sf" x="47.6" y="129.2" font-size="14.2" text-anchor="middle" transform="rotate(-90 47.6 129.2)">Introns n= 1203</text>
<rect x="54.00" y="213.60" width="25.40" height="15.80" fill="#fff" stroke="#000" stroke-width="0.9"/>
<rect x="54.00" y="229.40" width="25.40" height="15.60" fill="#ccc" stroke="#000" stroke-width="0.9"/>
<rect x="79.40" y="213.60" width="26.00" height="15.80" fill="#fff" stroke="#000" stroke-width="0.9"/>
<rect x="79.40" y="229.40" width="26.00" height="15.60" fill="#509" stroke="#000" stroke-width="0.9"/>
<rect x="105.40" y="213.60" width="25.60" height="15.80" fill="#fff" stroke="#000" stroke-width="0.9"/>
<rect x="105.40" y="229.40" width="25.60" height="15.60" fill="#a0d" stroke="#000" stroke-width="0.9"/>
<rect x="131.00" y="213.60" width="25.80" height="15.80" fill="#900" stroke="#000" stroke-width="0.9"/>
<rect x="131.00" y="229.40" width="25.80" height="15.60" fill="#ccc" stroke="#000" stroke-width="0.9"/>
<rect x="156.80" y="213.60" width="25.70" height="15.80" fill="#900" stroke="#000" stroke-width="0.9"/>
<rect x="156.80" y="229.40" width="25.70" height="15.60" fill="#509" stroke="#000" stroke-width="0.9"/>
<rect x="182.50" y="213.60" width="25.30" height="15.80" fill="#900" stroke="#000" stroke-width="0.9"/>
<rect x="182.50" y="229.40" width="25.30" height="15.60" fill="#a0d" stroke="#000" stroke-width="0.9"/>
<text class="sf" x="13.2" y="223.4" font-size="12.3">MYCN</text>
<text class="sf" x="13.2" y="241.4" font-size="12.3">siRNA</text>
<text class="ss" x="215.0" y="61.7" font-size="10.3" textLength="35" lengthAdjust="spacingAndGlyphs">adjusted</text>
<text class="ss" x="215.0" y="78.6" font-size="10.3" textLength="35" lengthAdjust="spacingAndGlyphs">deltaPSI</text>
<defs><linearGradient id="cb" x1="0" y1="0" x2="0" y2="1"><stop offset="0" stop-color="#f00"/><stop offset="0.2" stop-color="#f55"/><stop offset="0.74" stop-color="#fff"/><stop offset="1" stop-color="#bbf"/></linearGradient></defs>
<rect x="214.80" y="85.60" width="10.60" height="50.00" fill="url(#cb)" stroke="#555" stroke-width="0.6"/>
<line x1="214.80" y1="90.20" x2="216.80" y2="90.20" stroke="#fff" stroke-width="0.7"/>
<line x1="223.40" y1="90.20" x2="225.40" y2="90.20" stroke="#fff" stroke-width="0.7"/>
<text class="ss" x="228.2" y="93.9" font-size="10.6" transform="translate(228.2 0) scale(0.91 1) translate(-228.2 0)">10</text>
<line x1="214.80" y1="104.20" x2="216.80" y2="104.20" stroke="#fff" stroke-width="0.7"/>
<line x1="223.40" y1="104.20" x2="225.40" y2="104.20" stroke="#fff" stroke-width="0.7"/>
<text class="ss" x="228.2" y="107.9" font-size="10.6" transform="translate(228.2 0) scale(0.91 1) translate(-228.2 0)">5</text>
<line x1="214.80" y1="118.20" x2="216.80" y2="118.20" stroke="#333" stroke-width="0.7"/>
<line x1="223.40" y1="118.20" x2="225.40" y2="118.20" stroke="#333" stroke-width="0.7"/>
<text class="ss" x="228.2" y="121.9" font-size="10.6" transform="translate(228.2 0) scale(0.91 1) translate(-228.2 0)">0</text>
<line x1="214.80" y1="132.00" x2="216.80" y2="132.00" stroke="#333" stroke-width="0.7"/>
<line x1="223.40" y1="132.00" x2="225.40" y2="132.00" stroke="#333" stroke-width="0.7"/>
<text class="ss" x="228.2" y="135.7" font-size="10.6" transform="translate(228.2 0) scale(0.91 1) translate(-228.2 0)">-5</text>
<text class="ss" x="256.8" y="61.7" font-size="10.3" transform="translate(256.8 0) scale(0.91 1) translate(-256.8 0)">MYCN</text>
<rect x="256.80" y="68.20" width="10.40" height="14.60" fill="#fff" stroke="#555" stroke-width="0.7"/>
<rect x="256.80" y="82.80" width="10.40" height="14.60" fill="#900" stroke="#555" stroke-width="0.7"/>
<text class="ss" x="271.0" y="79.8" font-size="10.3" transform="translate(271.0 0) scale(0.91 1) translate(-271.0 0)">OFF</text>
<text class="ss" x="271.0" y="94.4" font-size="10.3" transform="translate(271.0 0) scale(0.91 1) translate(-271.0 0)">ON</text>
<text class="ss" x="256.8" y="115.3" font-size="10.3" transform="translate(256.8 0) scale(0.91 1) translate(-256.8 0)">siRNA</text>
<rect x="256.80" y="121.20" width="10.40" height="14.70" fill="#ccc" stroke="#555" stroke-width="0.7"/>
<text class="ss" x="271.0" y="133.2" font-size="10.3" transform="translate(271.0 0) scale(0.91 1) translate(-271.0 0)">siControl</text>
<rect x="256.80" y="135.90" width="10.40" height="14.70" fill="#509" stroke="#555" stroke-width="0.7"/>
<text class="ss" x="271.0" y="147.9" font-size="10.3" transform="translate(271.0 0) scale(0.91 1) translate(-271.0 0)">siSNRPD3 #1</text>
<rect x="256.80" y="150.60" width="10.40" height="14.70" fill="#a0d" stroke="#555" stroke-width="0.7"/>
<text class="ss" x="271.0" y="162.6" font-size="10.3" transform="translate(271.0 0) scale(0.91 1) translate(-271.0 0)">siSNRPD3 #2</text>
</g>
<g id="panelB">
<text class="sf b" x="363.0" y="17.9" font-size="25">B</text>
<rect x="421.30" y="5.30" width="9.00" height="5.40" fill="#55e" stroke="#335" stroke-width="0.5"/>
<text class="sf" x="435.3" y="10.9" font-size="8.6" transform="translate(435.3 0) scale(0.93 1) translate(-435.3 0)">A3SS</text>
<text class="sf" x="519.5" y="10.7" font-size="7.3">Alternative 3' splice site</text>
<rect x="455.10" y="6.00" width="14.60" height="4.00" fill="#fff" stroke="#888" stroke-width="0.55"/>
<rect x="502.30" y="6.00" width="14.90" height="4.00" fill="#fff" stroke="#888" stroke-width="0.55"/>
<path d="M469.7 6.0 L482.9 2.2 L496.3 6.0" stroke="#aaa" stroke-width="0.5" fill="none"/>
<path d="M469.7 10.0 L487.3 13.9 L503.8 10.0" stroke="#999" stroke-width="0.5" fill="none" stroke-dasharray="0.9 0.7"/>
<rect x="496.30" y="6.00" width="7.50" height="4.00" fill="#55e"/>
<rect x="421.30" y="18.50" width="9.00" height="5.40" fill="#f80" stroke="#335" stroke-width="0.5"/>
<text class="sf" x="435.3" y="24.1" font-size="8.6" transform="translate(435.3 0) scale(0.93 1) translate(-435.3 0)">A5SS</text>
<text class="sf" x="519.5" y="25.0" font-size="7.3">Alternative 5' splice site</text>
<rect x="455.10" y="19.20" width="14.60" height="4.00" fill="#fff" stroke="#888" stroke-width="0.55"/>
<rect x="502.30" y="19.20" width="14.90" height="4.00" fill="#fff" stroke="#888" stroke-width="0.55"/>
<path d="M475.6 19.2 L489.5 16.4 L502.3 19.2" stroke="#aaa" stroke-width="0.5" fill="none"/>
<path d="M469.7 23.2 L485.8 27.7 L502.3 23.2" stroke="#999" stroke-width="0.5" fill="none" stroke-dasharray="0.9 0.7"/>
<rect x="469.70" y="19.20" width="5.90" height="4.00" fill="#f80"/>
<rect x="421.30" y="31.90" width="9.00" height="5.40" fill="#1b7" stroke="#335" stroke-width="0.5"/>
<text class="sf" x="435.3" y="37.5" font-size="8.6" transform="translate(435.3 0) scale(0.93 1) translate(-435.3 0)">MXE</text>
<text class="sf" x="519.5" y="38.3" font-size="7.3">Mutually exclusive exons</text>
<rect x="455.10" y="32.60" width="14.60" height="4.00" fill="#fff" stroke="#888" stroke-width="0.55"/>
<rect x="502.30" y="32.60" width="14.90" height="4.00" fill="#fff" stroke="#888" stroke-width="0.55"/>
<path d="M469.7 32.6 L472.8 30.400000000000002 L476.3 32.6" stroke="#aaa" stroke-width="0.5" fill="none"/>
<path d="M483.6 32.6 L493.8 30.400000000000002 L502.3 32.6" stroke="#aaa" stroke-width="0.5" fill="none"/>
<path d="M469.7 36.6 L480.7 40.5 L488.7 36.6" stroke="#999" stroke-width="0.5" fill="none" stroke-dasharray="0.9 0.7"/>
<path d="M495.7 36.6 L499.7 40.0 L502.3 36.6" stroke="#999" stroke-width="0.5" fill="none" stroke-dasharray="0.9 0.7"/>
<rect x="476.30" y="32.60" width="7.30" height="4.00" fill="#1b7"/>
<rect x="488.70" y="32.60" width="7.00" height="4.00" fill="#1b7"/>
<rect x="421.30" y="44.70" width="9.00" height="5.40" fill="#ff2" stroke="#335" stroke-width="0.5"/>
<text class="sf" x="435.3" y="50.3" font-size="8.6" transform="translate(435.3 0) scale(0.93 1) translate(-435.3 0)">RI</text>
<text class="sf" x="519.5" y="51.1" font-size="7.3">Retained intron</text>
<rect x="455.10" y="45.40" width="14.60" height="4.00" fill="#fff" stroke="#888" stroke-width="0.55"/>
<rect x="502.30" y="45.40" width="14.90" height="4.00" fill="#fff" stroke="#888" stroke-width="0.55"/>
<rect x="469.70" y="46.80" width="32.60" height="1.80" fill="#ec5"/>
<path d="M469.7 49.4 L486 54.5 L502.3 49.4" stroke="#999" stroke-width="0.5" fill="none" stroke-dasharray="0.9 0.7"/>
<rect x="421.30" y="57.60" width="9.00" height="5.40" fill="#f34" stroke="#335" stroke-width="0.5"/>
<text class="sf" x="435.3" y="63.2" font-size="8.6" transform="translate(435.3 0) scale(0.93 1) translate(-435.3 0)">SE</text>
<text class="sf" x="519.5" y="65.2" font-size="7.3">Skipped exon</text>
<rect x="455.10" y="58.30" width="14.60" height="4.00" fill="#fff" stroke="#888" stroke-width="0.55"/>
<rect x="502.30" y="58.30" width="14.90" height="4.00" fill="#fff" stroke="#888" stroke-width="0.55"/>
<path d="M469.7 58.3 L473.5 57.5 L478.5 58.3" stroke="#aaa" stroke-width="0.5" fill="none"/>
<path d="M493.1 58.3 L498 57.5 L502.3 58.3" stroke="#aaa" stroke-width="0.5" fill="none"/>
<path d="M469.7 62.3 L486 68.5 L502.3 62.3" stroke="#999" stroke-width="0.5" fill="none" stroke-dasharray="0.9 0.7"/>
<rect x="478.50" y="58.30" width="14.60" height="4.00" fill="#f34"/>
<rect x="427.10" y="172.32" width="14.80" height="31.18" fill="#f44"/>
<rect x="427.10" y="170.88" width="14.80" height="1.45" fill="#ff1"/>
<rect x="427.10" y="170.00" width="14.80" height="0.87" fill="#f70"/>
<rect x="427.10" y="165.44" width="14.80" height="4.57" fill="#1c7"/>
<rect x="427.10" y="163.77" width="14.80" height="1.67" fill="#f70"/>
<rect x="427.10" y="160.65" width="14.80" height="3.12" fill="#55e"/>
<rect x="427.10" y="160.65" width="14.80" height="42.85" fill="none" stroke="#222" stroke-width="0.5"/>
<text class="sf" x="434.5" y="156.0" font-size="8.8" text-anchor="middle">591</text>
<rect x="449.70" y="191.18" width="14.80" height="12.32" fill="#f44"/>
<rect x="449.70" y="190.31" width="14.80" height="0.87" fill="#1c7"/>
<rect x="449.70" y="189.29" width="14.80" height="1.02" fill="#f70"/>
<rect x="449.70" y="188.20" width="14.80" height="1.09" fill="#55e"/>
<rect x="449.70" y="188.20" width="14.80" height="15.30" fill="none" stroke="#222" stroke-width="0.5"/>
<text class="sf" x="457.1" y="183.5" font-size="8.8" text-anchor="middle">211</text>
<rect x="472.50" y="195.67" width="14.80" height="7.83" fill="#f44"/>
<rect x="472.50" y="194.22" width="14.80" height="1.45" fill="#ff1"/>
<rect x="472.50" y="193.35" width="14.80" height="0.87" fill="#f70"/>
<rect x="472.50" y="191.54" width="14.80" height="1.81" fill="#224"/>
<rect x="472.50" y="191.54" width="14.80" height="11.96" fill="none" stroke="#222" stroke-width="0.5"/>
<text class="sf" x="479.9" y="186.8" font-size="8.8" text-anchor="middle">165</text>
<rect x="495.40" y="160.00" width="14.80" height="43.50" fill="#f44"/>
<rect x="495.40" y="142.06" width="14.80" height="11.74" fill="#f44"/>
<rect x="495.40" y="140.92" width="14.80" height="1.14" fill="#ff1"/>
<rect x="495.40" y="138.15" width="14.80" height="2.77" fill="#1c7"/>
<rect x="495.40" y="137.34" width="14.80" height="0.81" fill="#f70"/>
<rect x="495.40" y="135.85" width="14.80" height="1.48" fill="#224"/>
<path d="M495.40 160.00 V203.50 M510.20 160.00 V203.50" stroke="#222" stroke-width="0.5" fill="none"/>
<path d="M495.40 153.80 V135.85 H510.20 V153.80" stroke="#222" stroke-width="0.5" fill="none"/>
<text class="sf" x="502.8" y="131.2" font-size="8.8" text-anchor="middle">2101</text>
<rect x="518.10" y="160.00" width="14.80" height="43.50" fill="#f44"/>
<rect x="518.10" y="153.31" width="14.80" height="0.49" fill="#f44"/>
<rect x="518.10" y="152.66" width="14.80" height="0.65" fill="#ff1"/>
<rect x="518.10" y="151.36" width="14.80" height="1.30" fill="#1c7"/>
<rect x="518.10" y="149.84" width="14.80" height="1.52" fill="#224"/>
<path d="M518.10 160.00 V203.50 M532.90 160.00 V203.50" stroke="#222" stroke-width="0.5" fill="none"/>
<path d="M518.10 153.80 V149.84 H532.90 V153.80" stroke="#222" stroke-width="0.5" fill="none"/>
<text class="sf" x="525.5" y="145.1" font-size="8.8" text-anchor="middle">1243</text>
<rect x="540.80" y="160.00" width="14.80" height="43.50" fill="#f44"/>
<rect x="540.80" y="106.04" width="14.80" height="47.76" fill="#f44"/>
<rect x="540.80" y="102.46" width="14.80" height="3.59" fill="#ff1"/>
<rect x="540.80" y="93.65" width="14.80" height="8.80" fill="#1c7"/>
<rect x="540.80" y="91.53" width="14.80" height="2.12" fill="#f70"/>
<rect x="540.80" y="88.94" width="14.80" height="2.59" fill="#55e"/>
<path d="M540.80 160.00 V203.50 M555.60 160.00 V203.50" stroke="#222" stroke-width="0.5" fill="none"/>
<path d="M540.80 153.80 V88.94 H555.60 V153.80" stroke="#222" stroke-width="0.5" fill="none"/>
<text class="sf" x="548.2" y="84.2" font-size="8.8" text-anchor="middle">4979</text>
<rect x="563.40" y="160.00" width="14.80" height="43.50" fill="#f44"/>
<rect x="563.40" y="121.69" width="14.80" height="32.11" fill="#f44"/>
<rect x="563.40" y="117.94" width="14.80" height="3.75" fill="#ff1"/>
<rect x="563.40" y="111.42" width="14.80" height="6.52" fill="#1c7"/>
<rect x="563.40" y="109.14" width="14.80" height="2.28" fill="#f70"/>
<rect x="563.40" y="106.24" width="14.80" height="2.90" fill="#55e"/>
<path d="M563.40 160.00 V203.50 M578.20 160.00 V203.50" stroke="#222" stroke-width="0.5" fill="none"/>
<path d="M563.40 153.80 V106.24 H578.20 V153.80" stroke="#222" stroke-width="0.5" fill="none"/>
<text class="sf" x="570.8" y="101.5" font-size="8.8" text-anchor="middle">3918</text>
<line x1="419.70" y1="88.20" x2="419.70" y2="153.80" stroke="#000" stroke-width="0.9"/>
<line x1="419.70" y1="160.00" x2="419.70" y2="203.50" stroke="#000" stroke-width="0.9"/>
<line x1="419.30" y1="203.50" x2="586.30" y2="203.50" stroke="#000" stroke-width="0.9"/>
<line x1="414.90" y1="153.80" x2="419.70" y2="153.80" stroke="#000" stroke-width="0.9"/>
<text class="sf b" x="414.1" y="156.5" font-size="8.0" text-anchor="end">1000</text>
<line x1="414.90" y1="137.50" x2="419.70" y2="137.50" stroke="#000" stroke-width="0.9"/>
<text class="sf b" x="414.1" y="140.2" font-size="8.0" text-anchor="end">2000</text>
<line x1="414.90" y1="121.20" x2="419.70" y2="121.20" stroke="#000" stroke-width="0.9"/>
<text class="sf b" x="414.1" y="123.9" font-size="8.0" text-anchor="end">3000</text>
<line x1="414.90" y1="104.90" x2="419.70" y2="104.90" stroke="#000" stroke-width="0.9"/>
<text class="sf b" x="414.1" y="107.6" font-size="8.0" text-anchor="end">4000</text>
<line x1="414.90" y1="88.60" x2="419.70" y2="88.60" stroke="#000" stroke-width="0.9"/>
<text class="sf b" x="414.1" y="91.3" font-size="8.0" text-anchor="end">5000</text>
<line x1="414.90" y1="203.50" x2="419.70" y2="203.50" stroke="#000" stroke-width="0.9"/>
<text class="sf b" x="414.1" y="206.2" font-size="8.0" text-anchor="end">0</text>
<line x1="414.90" y1="189.00" x2="419.70" y2="189.00" stroke="#000" stroke-width="0.9"/>
<text class="sf b" x="414.1" y="191.7" font-size="8.0" text-anchor="end">200</text>
<line x1="414.90" y1="174.50" x2="419.70" y2="174.50" stroke="#000" stroke-width="0.9"/>
<text class="sf b" x="414.1" y="177.2" font-size="8.0" text-anchor="end">400</text>
<line x1="414.90" y1="160.00" x2="419.70" y2="160.00" stroke="#000" stroke-width="0.9"/>
<text class="sf b" x="414.1" y="162.7" font-size="8.0" text-anchor="end">600</text>
<line x1="434.50" y1="203.50" x2="434.50" y2="207.00" stroke="#000" stroke-width="0.9"/>
<line x1="457.10" y1="203.50" x2="457.10" y2="207.00" stroke="#000" stroke-width="0.9"/>
<line x1="479.90" y1="203.50" x2="479.90" y2="207.00" stroke="#000" stroke-width="0.9"/>
<line x1="502.80" y1="203.50" x2="502.80" y2="207.00" stroke="#000" stroke-width="0.9"/>
<line x1="525.50" y1="203.50" x2="525.50" y2="207.00" stroke="#000" stroke-width="0.9"/>
<line x1="548.20" y1="203.50" x2="548.20" y2="207.00" stroke="#000" stroke-width="0.9"/>
<line x1="570.80" y1="203.50" x2="570.80" y2="207.00" stroke="#000" stroke-width="0.9"/>
<line x1="419.70" y1="153.80" x2="421.50" y2="153.80" stroke="#000" stroke-width="0.9"/>
<line x1="419.70" y1="160.00" x2="421.50" y2="160.00" stroke="#000" stroke-width="0.9"/>
<text class="sf b" x="375.6" y="148.4" font-size="11.5" text-anchor="middle" transform="rotate(-90 375.6 148.4)">Number of differentially</text>
<text class="sf b" x="388.8" y="148.9" font-size="11.5" text-anchor="middle" transform="rotate(-90 388.8 148.9)">spliced genes</text>
<rect x="419.30" y="209.30" width="23.73" height="17.10" fill="#fff" stroke="#222" stroke-width="0.7"/>
<rect x="419.30" y="226.40" width="23.73" height="16.90" fill="#ccc" stroke="#222" stroke-width="0.7"/>
<rect x="443.03" y="209.30" width="23.73" height="17.10" fill="#fff" stroke="#222" stroke-width="0.7"/>
<rect x="443.03" y="226.40" width="23.73" height="16.90" fill="#ccc" stroke="#222" stroke-width="0.7"/>
<rect x="466.76" y="209.30" width="23.73" height="17.10" fill="#fff" stroke="#222" stroke-width="0.7"/>
<rect x="466.76" y="226.40" width="23.73" height="16.90" fill="#ccc" stroke="#222" stroke-width="0.7"/>
<rect x="490.49" y="209.30" width="23.73" height="17.10" fill="#900" stroke="#222" stroke-width="0.7"/>
<rect x="490.49" y="226.40" width="23.73" height="16.90" fill="#ccc" stroke="#222" stroke-width="0.7"/>
<rect x="514.21" y="209.30" width="23.73" height="17.10" fill="#900" stroke="#222" stroke-width="0.7"/>
<rect x="514.21" y="226.40" width="23.73" height="16.90" fill="#ccc" stroke="#222" stroke-width="0.7"/>
<rect x="537.94" y="209.30" width="23.73" height="17.10" fill="#fff" stroke="#222" stroke-width="0.7"/>
<rect x="537.94" y="226.40" width="23.73" height="16.90" fill="#ccc" stroke="#222" stroke-width="0.7"/>
<rect x="561.67" y="209.30" width="23.73" height="17.10" fill="#fff" stroke="#222" stroke-width="0.7"/>
<rect x="561.67" y="226.40" width="23.73" height="16.90" fill="#ccc" stroke="#222" stroke-width="0.7"/>
<text class="sf" x="377.0" y="222.4" font-size="11.5">MYCN</text>
<text class="sf" x="377.0" y="239.4" font-size="11.5">siRNA</text>
<text class="sf" x="498.5" y="258.3" font-size="11.5" text-anchor="middle">VS</text>
<rect x="419.30" y="264.40" width="23.73" height="17.10" fill="#900" stroke="#222" stroke-width="0.7"/>
<rect x="419.30" y="281.50" width="23.73" height="16.60" fill="#ccc" stroke="#222" stroke-width="0.7"/>
<rect x="443.03" y="264.40" width="23.73" height="17.10" fill="#fff" stroke="#222" stroke-width="0.7"/>
<rect x="443.03" y="281.50" width="23.73" height="16.60" fill="#7d30c2" stroke="#222" stroke-width="0.7"/>
<rect x="466.76" y="264.40" width="23.73" height="17.10" fill="#fff" stroke="#222" stroke-width="0.7"/>
<rect x="466.76" y="281.50" width="23.73" height="16.60" fill="#541e8a" stroke="#222" stroke-width="0.7"/>
<rect x="490.49" y="264.40" width="23.73" height="17.10" fill="#900" stroke="#222" stroke-width="0.7"/>
<rect x="490.49" y="281.50" width="23.73" height="16.60" fill="#7d30c2" stroke="#222" stroke-width="0.7"/>
<rect x="514.21" y="264.40" width="23.73" height="17.10" fill="#900" stroke="#222" stroke-width="0.7"/>
<rect x="514.21" y="281.50" width="23.73" height="16.60" fill="#541e8a" stroke="#222" stroke-width="0.7"/>
<rect x="537.94" y="264.40" width="23.73" height="17.10" fill="#900" stroke="#222" stroke-width="0.7"/>
<rect x="537.94" y="281.50" width="23.73" height="16.60" fill="#7d30c2" stroke="#222" stroke-width="0.7"/>
<rect x="561.67" y="264.40" width="23.73" height="17.10" fill="#900" stroke="#222" stroke-width="0.7"/>
<rect x="561.67" y="281.50" width="23.73" height="16.60" fill="#541e8a" stroke="#222" stroke-width="0.7"/>
<text class="sf" x="377.0" y="277.5" font-size="11.5">MYCN</text>
<text class="sf" x="377.0" y="294.2" font-size="11.5">siRNA</text>
<text class="sf" x="602.0" y="131.9" font-size="11.7">MYCN</text>
<rect x="599.60" y="137.40" width="14.80" height="16.90" fill="#fff" stroke="#555" stroke-width="0.7"/>
<rect x="599.60" y="154.30" width="14.80" height="17.20" fill="#900" stroke="#555" stroke-width="0.7"/>
<text class="sf" x="617.8" y="149.2" font-size="11.7">OFF</text>
<text class="sf" x="617.8" y="166.4" font-size="11.7">ON</text>
<text class="sf" x="602.0" y="199.7" font-size="11.7">siRNA</text>
<rect x="599.60" y="204.90" width="14.80" height="17.20" fill="#ccc" stroke="#555" stroke-width="0.7"/>
<text class="sf" x="617.8" y="216.4" font-size="11.7">siControl</text>
<rect x="599.60" y="222.10" width="14.80" height="17.20" fill="#7d30c2" stroke="#555" stroke-width="0.7"/>
<text class="sf" x="617.8" y="233.8" font-size="11.7">siSNRPD3 #1</text>
<rect x="599.60" y="239.30" width="14.80" height="17.20" fill="#541e8a" stroke="#555" stroke-width="0.7"/>
<text class="sf" x="617.8" y="251.2" font-size="11.7">siSNRPD3 #2</text>
</g>
<g id="panelC">
<text class="sf b" x="4.6" y="302.9" font-size="25">C</text>
<text class="sf b" x="268.2" y="303.1" font-size="9.45" text-anchor="middle">GO enrichment analysis of</text>
<text class="sf b" x="268.2" y="313.4" font-size="9.45" text-anchor="middle">Wildtype vs MYCN+/SNRPD3-</text>
<rect x="252.90" y="327.10" width="102.08" height="7.40" fill="#11f" stroke="#006" stroke-width="0.4"/>
<line x1="249.90" y1="330.80" x2="252.90" y2="330.80" stroke="#000" stroke-width="0.8"/>
<text class="sf" x="248.2" y="333.4" font-size="8.53" text-anchor="end">mRNA splicing, via spliceosome</text>
<rect x="252.90" y="338.73" width="93.77" height="7.40" fill="#11f" stroke="#006" stroke-width="0.4"/>
<line x1="249.90" y1="342.43" x2="252.90" y2="342.43" stroke="#000" stroke-width="0.8"/>
<text class="sf" x="248.2" y="345.0" font-size="8.53" text-anchor="end">cell division</text>
<rect x="252.90" y="350.36" width="85.47" height="7.40" fill="#11f" stroke="#006" stroke-width="0.4"/>
<line x1="249.90" y1="354.06" x2="252.90" y2="354.06" stroke="#000" stroke-width="0.8"/>
<text class="sf" x="248.2" y="356.7" font-size="8.53" text-anchor="end">DNA repair</text>
<rect x="252.90" y="361.99" width="82.90" height="7.40" fill="#11f" stroke="#006" stroke-width="0.4"/>
<line x1="249.90" y1="365.69" x2="252.90" y2="365.69" stroke="#000" stroke-width="0.8"/>
<text class="sf" x="248.2" y="368.3" font-size="8.53" text-anchor="end">anaphase-promoting complex-dependent catabolic process</text>
<rect x="252.90" y="373.62" width="76.71" height="7.40" fill="#11f" stroke="#006" stroke-width="0.4"/>
<line x1="249.90" y1="377.32" x2="252.90" y2="377.32" stroke="#000" stroke-width="0.8"/>
<text class="sf" x="248.2" y="379.9" font-size="8.53" text-anchor="end">mitotic nuclear division</text>
<rect x="252.90" y="385.25" width="76.10" height="7.40" fill="#11f" stroke="#006" stroke-width="0.4"/>
<line x1="249.90" y1="388.95" x2="252.90" y2="388.95" stroke="#000" stroke-width="0.8"/>
<text class="sf" x="248.2" y="391.6" font-size="8.53" text-anchor="end">ubiquitin-dependent protein catabolic process</text>
<rect x="252.90" y="396.88" width="71.88" height="7.40" fill="#11f" stroke="#006" stroke-width="0.4"/>
<line x1="249.90" y1="400.58" x2="252.90" y2="400.58" stroke="#000" stroke-width="0.8"/>
<text class="sf" x="248.2" y="403.2" font-size="8.53" text-anchor="end">mRNA processing</text>
<rect x="252.90" y="408.51" width="69.76" height="7.40" fill="#11f" stroke="#006" stroke-width="0.4"/>
<line x1="249.90" y1="412.21" x2="252.90" y2="412.21" stroke="#000" stroke-width="0.8"/>
<text class="sf" x="248.2" y="414.8" font-size="8.53" text-anchor="end">RNA splicing</text>
<rect x="252.90" y="420.14" width="69.01" height="7.40" fill="#11f" stroke="#006" stroke-width="0.4"/>
<line x1="249.90" y1="423.84" x2="252.90" y2="423.84" stroke="#000" stroke-width="0.8"/>
<text class="sf" x="248.2" y="426.4" font-size="8.53" text-anchor="end">RNA processing</text>
<rect x="252.90" y="431.77" width="66.74" height="7.40" fill="#11f" stroke="#006" stroke-width="0.4"/>
<line x1="249.90" y1="435.47" x2="252.90" y2="435.47" stroke="#000" stroke-width="0.8"/>
<text class="sf" x="248.2" y="438.1" font-size="8.53" text-anchor="end">proteasome-mediated ubiquitin-dependent protein catabolic process</text>
<line x1="252.90" y1="323.00" x2="252.90" y2="443.50" stroke="#000" stroke-width="0.9"/>
<line x1="252.50" y1="443.50" x2="374.00" y2="443.50" stroke="#000" stroke-width="0.9"/>
<line x1="252.90" y1="443.50" x2="252.90" y2="446.50" stroke="#000" stroke-width="0.9"/>
<text class="sf b" x="252.9" y="455.3" font-size="8.2" text-anchor="middle">0</text>
<line x1="283.10" y1="443.50" x2="283.10" y2="446.50" stroke="#000" stroke-width="0.9"/>
<text class="sf b" x="283.1" y="455.3" font-size="8.2" text-anchor="middle">2</text>
<line x1="313.30" y1="443.50" x2="313.30" y2="446.50" stroke="#000" stroke-width="0.9"/>
<text class="sf b" x="313.3" y="455.3" font-size="8.2" text-anchor="middle">4</text>
<line x1="343.50" y1="443.50" x2="343.50" y2="446.50" stroke="#000" stroke-width="0.9"/>
<text class="sf b" x="343.5" y="455.3" font-size="8.2" text-anchor="middle">6</text>
<line x1="373.70" y1="443.50" x2="373.70" y2="446.50" stroke="#000" stroke-width="0.9"/>
<text class="sf b" x="373.7" y="455.3" font-size="8.2" text-anchor="middle">8</text>
<text class="sf b" x="313.3" y="467.2" font-size="8.5" text-anchor="middle">-Log10 (P-value)</text>
</g>
<g id="panelD">
<text class="sf b" x="4.8" y="502.5" font-size="25">D</text>
<line x1="38.40" y1="524.00" x2="38.40" y2="651.20" stroke="#000" stroke-width="1.0"/>
<line x1="37.90" y1="650.70" x2="228.30" y2="650.70" stroke="#000" stroke-width="1.0"/>
<line x1="34.40" y1="650.70" x2="38.40" y2="650.70" stroke="#000" stroke-width="1.0"/>
<text class="sf b" x="34.3" y="653.6" font-size="8.7" text-anchor="end">0</text>
<line x1="34.40" y1="629.65" x2="38.40" y2="629.65" stroke="#000" stroke-width="1.0"/>
<text class="sf b" x="34.3" y="632.6" font-size="8.7" text-anchor="end">10</text>
<line x1="34.40" y1="608.60" x2="38.40" y2="608.60" stroke="#000" stroke-width="1.0"/>
<text class="sf b" x="34.3" y="611.5" font-size="8.7" text-anchor="end">20</text>
<line x1="34.40" y1="587.55" x2="38.40" y2="587.55" stroke="#000" stroke-width="1.0"/>
<text class="sf b" x="34.3" y="590.5" font-size="8.7" text-anchor="end">30</text>
<line x1="34.40" y1="566.50" x2="38.40" y2="566.50" stroke="#000" stroke-width="1.0"/>
<text class="sf b" x="34.3" y="569.4" font-size="8.7" text-anchor="end">40</text>
<line x1="34.40" y1="545.45" x2="38.40" y2="545.45" stroke="#000" stroke-width="1.0"/>
<text class="sf b" x="34.3" y="548.4" font-size="8.7" text-anchor="end">50</text>
<line x1="34.40" y1="524.40" x2="38.40" y2="524.40" stroke="#000" stroke-width="1.0"/>
<text class="sf b" x="34.3" y="527.3" font-size="8.7" text-anchor="end">60</text>
<line x1="50.80" y1="548.19" x2="50.80" y2="547.13" stroke="#222" stroke-width="0.9"/>
<line x1="47.80" y1="547.13" x2="53.80" y2="547.13" stroke="#222" stroke-width="0.9"/>
<rect x="45.00" y="548.19" width="11.60" height="102.51" fill="#000"/>
<line x1="68.80" y1="559.34" x2="68.80" y2="556.61" stroke="#222" stroke-width="0.9"/>
<line x1="65.80" y1="556.61" x2="71.80" y2="556.61" stroke="#222" stroke-width="0.9"/>
<rect x="63.00" y="559.34" width="11.60" height="91.36" fill="#999"/>
<line x1="86.30" y1="545.03" x2="86.30" y2="540.19" stroke="#222" stroke-width="0.9"/>
<line x1="83.30" y1="540.19" x2="89.30" y2="540.19" stroke="#222" stroke-width="0.9"/>
<rect x="80.50" y="545.03" width="11.60" height="105.67" fill="#a9a9a9"/>
<line x1="115.70" y1="576.39" x2="115.70" y2="572.18" stroke="#222" stroke-width="0.9"/>
<line x1="112.70" y1="572.18" x2="118.70" y2="572.18" stroke="#222" stroke-width="0.9"/>
<rect x="109.90" y="576.39" width="11.60" height="74.31" fill="#000"/>
<line x1="133.70" y1="591.97" x2="133.70" y2="587.34" stroke="#222" stroke-width="0.9"/>
<line x1="130.70" y1="587.34" x2="136.70" y2="587.34" stroke="#222" stroke-width="0.9"/>
<rect x="127.90" y="591.97" width="11.60" height="58.73" fill="#999"/>
<line x1="151.50" y1="585.87" x2="151.50" y2="582.08" stroke="#222" stroke-width="0.9"/>
<line x1="148.50" y1="582.08" x2="154.50" y2="582.08" stroke="#222" stroke-width="0.9"/>
<rect x="145.70" y="585.87" width="11.60" height="64.83" fill="#a9a9a9"/>
<line x1="181.10" y1="630.49" x2="181.10" y2="629.65" stroke="#222" stroke-width="0.9"/>
<line x1="178.10" y1="629.65" x2="184.10" y2="629.65" stroke="#222" stroke-width="0.9"/>
<rect x="175.30" y="630.49" width="11.60" height="20.21" fill="#000"/>
<line x1="198.90" y1="614.28" x2="198.90" y2="611.97" stroke="#222" stroke-width="0.9"/>
<line x1="195.90" y1="611.97" x2="201.90" y2="611.97" stroke="#222" stroke-width="0.9"/>
<rect x="193.10" y="614.28" width="11.60" height="36.42" fill="#999"/>
<line x1="216.50" y1="617.23" x2="216.50" y2="616.91" stroke="#222" stroke-width="0.9"/>
<line x1="213.50" y1="616.91" x2="219.50" y2="616.91" stroke="#222" stroke-width="0.9"/>
<rect x="210.70" y="617.23" width="11.60" height="33.47" fill="#a9a9a9"/>
<line x1="68.80" y1="650.70" x2="68.80" y2="654.10" stroke="#000" stroke-width="1.0"/>
<text class="sf b" x="68.8" y="663.0" font-size="9.5" text-anchor="middle">G1</text>
<line x1="133.60" y1="650.70" x2="133.60" y2="654.10" stroke="#000" stroke-width="1.0"/>
<text class="sf b" x="133.6" y="663.0" font-size="9.5" text-anchor="middle">S</text>
<line x1="198.90" y1="650.70" x2="198.90" y2="654.10" stroke="#000" stroke-width="1.0"/>
<text class="sf b" x="198.9" y="663.0" font-size="9.5" text-anchor="middle">G2/M</text>
<text class="sf b" x="138.5" y="500.3" font-size="9.9" text-anchor="middle">SK-N-BE(2)-C</text>
<text class="sf b" x="20.9" y="585.7" font-size="10" text-anchor="middle" transform="rotate(-90 20.9 585.7)">Percentage of cells</text>
<path d="M50.5 521.8 V514.8 H86.7 V533.7" stroke="#333" stroke-width="0.6" fill="none"/>
<text class="sf" x="68.3" y="510.8" font-size="8.2" text-anchor="middle">ns</text>
<path d="M50.5 543.7 V534.9 H68.3 V554.2" stroke="#333" stroke-width="0.6" fill="none"/>
<text class="sf" x="58.1" y="530.2" font-size="7.4" text-anchor="middle">0.0286</text>
<path d="M115.6 546.6 V539.4 H151.6 V580.4" stroke="#333" stroke-width="0.6" fill="none"/>
<text class="sf" x="133.8" y="535.2" font-size="8.2" text-anchor="middle">ns</text>
<path d="M115.6 568.4 V559.9 H133.6 V584.5" stroke="#333" stroke-width="0.6" fill="none"/>
<text class="sf" x="123.8" y="555.1" font-size="7.4" text-anchor="middle">0.0210</text>
<path d="M181.2 581.5 V574.1 H216.2 V609.2" stroke="#333" stroke-width="0.6" fill="none"/>
<text class="sf" x="198.7" y="569.0" font-size="7.4" text-anchor="middle">0.0018</text>
<path d="M181.2 624.4 V594.0 H198.7 V608.3" stroke="#333" stroke-width="0.6" fill="none"/>
<text class="sf" x="188.5" y="589.3" font-size="7.4" text-anchor="middle">0.0091</text>
<rect x="234.00" y="538.40" width="8.80" height="6.50" fill="#000"/>
<text class="sf" x="247.2" y="544.5" font-size="8.74">siControl</text>
<rect x="234.00" y="551.70" width="8.80" height="6.50" fill="#999"/>
<text class="sf" x="247.2" y="557.8" font-size="8.74">siSNRPD3 #1</text>
<rect x="234.00" y="565.00" width="8.80" height="6.50" fill="#a9a9a9"/>
<text class="sf" x="247.2" y="571.1" font-size="8.74">siSNRPD3 #2</text>
<line x1="351.30" y1="522.30" x2="351.30" y2="652.30" stroke="#000" stroke-width="1.0"/>
<line x1="350.80" y1="651.80" x2="544.30" y2="651.80" stroke="#000" stroke-width="1.0"/>
<line x1="347.30" y1="651.80" x2="351.30" y2="651.80" stroke="#000" stroke-width="1.0"/>
<text class="sf b" x="347.2" y="654.7" font-size="8.7" text-anchor="end">0</text>
<line x1="347.30" y1="635.65" x2="351.30" y2="635.65" stroke="#000" stroke-width="1.0"/>
<text class="sf b" x="347.2" y="638.5" font-size="8.7" text-anchor="end">10</text>
<line x1="347.30" y1="619.50" x2="351.30" y2="619.50" stroke="#000" stroke-width="1.0"/>
<text class="sf b" x="347.2" y="622.4" font-size="8.7" text-anchor="end">20</text>
<line x1="347.30" y1="603.35" x2="351.30" y2="603.35" stroke="#000" stroke-width="1.0"/>
<text class="sf b" x="347.2" y="606.2" font-size="8.7" text-anchor="end">30</text>
<line x1="347.30" y1="587.20" x2="351.30" y2="587.20" stroke="#000" stroke-width="1.0"/>
<text class="sf b" x="347.2" y="590.1" font-size="8.7" text-anchor="end">40</text>
<line x1="347.30" y1="571.05" x2="351.30" y2="571.05" stroke="#000" stroke-width="1.0"/>
<text class="sf b" x="347.2" y="573.9" font-size="8.7" text-anchor="end">50</text>
<line x1="347.30" y1="554.90" x2="351.30" y2="554.90" stroke="#000" stroke-width="1.0"/>
<text class="sf b" x="347.2" y="557.8" font-size="8.7" text-anchor="end">60</text>
<line x1="347.30" y1="538.75" x2="351.30" y2="538.75" stroke="#000" stroke-width="1.0"/>
<text class="sf b" x="347.2" y="541.6" font-size="8.7" text-anchor="end">70</text>
<line x1="347.30" y1="522.60" x2="351.30" y2="522.60" stroke="#000" stroke-width="1.0"/>
<text class="sf b" x="347.2" y="525.5" font-size="8.7" text-anchor="end">80</text>
<line x1="363.70" y1="562.97" x2="363.70" y2="553.45" stroke="#222" stroke-width="0.9"/>
<line x1="360.70" y1="553.45" x2="366.70" y2="553.45" stroke="#222" stroke-width="0.9"/>
<rect x="357.65" y="562.97" width="12.10" height="88.83" fill="#000"/>
<line x1="381.70" y1="567.34" x2="381.70" y2="553.45" stroke="#222" stroke-width="0.9"/>
<line x1="378.70" y1="553.45" x2="384.70" y2="553.45" stroke="#222" stroke-width="0.9"/>
<rect x="375.65" y="567.34" width="12.10" height="84.46" fill="#adadaf"/>
<line x1="399.70" y1="562.97" x2="399.70" y2="553.45" stroke="#222" stroke-width="0.9"/>
<line x1="396.70" y1="553.45" x2="402.70" y2="553.45" stroke="#222" stroke-width="0.9"/>
<rect x="393.65" y="562.97" width="12.10" height="88.83" fill="#999"/>
<line x1="429.80" y1="605.13" x2="429.80" y2="600.93" stroke="#222" stroke-width="0.9"/>
<line x1="426.80" y1="600.93" x2="432.80" y2="600.93" stroke="#222" stroke-width="0.9"/>
<rect x="423.75" y="605.13" width="12.10" height="46.67" fill="#000"/>
<line x1="448.20" y1="603.35" x2="448.20" y2="594.31" stroke="#222" stroke-width="0.9"/>
<line x1="445.20" y1="594.31" x2="451.20" y2="594.31" stroke="#222" stroke-width="0.9"/>
<rect x="442.15" y="603.35" width="12.10" height="48.45" fill="#adadaf"/>
<line x1="466.20" y1="607.23" x2="466.20" y2="602.87" stroke="#222" stroke-width="0.9"/>
<line x1="463.20" y1="602.87" x2="469.20" y2="602.87" stroke="#222" stroke-width="0.9"/>
<rect x="460.15" y="607.23" width="12.10" height="44.57" fill="#999"/>
<line x1="496.10" y1="639.36" x2="496.10" y2="637.43" stroke="#222" stroke-width="0.9"/>
<line x1="493.10" y1="637.43" x2="499.10" y2="637.43" stroke="#222" stroke-width="0.9"/>
<rect x="490.05" y="639.36" width="12.10" height="12.44" fill="#000"/>
<line x1="514.10" y1="635.97" x2="514.10" y2="634.52" stroke="#222" stroke-width="0.9"/>
<line x1="511.10" y1="634.52" x2="517.10" y2="634.52" stroke="#222" stroke-width="0.9"/>
<rect x="508.05" y="635.97" width="12.10" height="15.83" fill="#adadaf"/>
<line x1="532.20" y1="634.52" x2="532.20" y2="632.58" stroke="#222" stroke-width="0.9"/>
<line x1="529.20" y1="632.58" x2="535.20" y2="632.58" stroke="#222" stroke-width="0.9"/>
<rect x="526.15" y="634.52" width="12.10" height="17.28" fill="#999"/>
<line x1="381.50" y1="651.80" x2="381.50" y2="655.20" stroke="#000" stroke-width="1.0"/>
<text class="sf b" x="381.5" y="664.4" font-size="9.5" text-anchor="middle">G1</text>
<line x1="447.90" y1="651.80" x2="447.90" y2="655.20" stroke="#000" stroke-width="1.0"/>
<text class="sf b" x="447.9" y="664.4" font-size="9.5" text-anchor="middle">S</text>
<line x1="514.10" y1="651.80" x2="514.10" y2="655.20" stroke="#000" stroke-width="1.0"/>
<text class="sf b" x="514.1" y="664.4" font-size="9.5" text-anchor="middle">G2/M</text>
<text class="sf b" x="452.4" y="501.3" font-size="9.9" text-anchor="middle">Kelly</text>
<text class="sf b" x="332.3" y="585.4" font-size="10" text-anchor="middle" transform="rotate(-90 332.3 585.4)">Percentage of cells</text>
<path d="M362.3 538.5 V541.7 M362.3 540.1 H399.7 M399.7 538.5 V541.7" stroke="#333" stroke-width="0.7" fill="none"/>
<text class="sf" x="381.3" y="535.4" font-size="8.2" text-anchor="middle">ns</text>
<path d="M427.2 582.5 V585.7 M427.2 584.1 H465.5 M465.5 582.5 V585.7" stroke="#333" stroke-width="0.7" fill="none"/>
<text class="sf" x="446.6" y="579.4" font-size="8.2" text-anchor="middle">ns</text>
<path d="M496.3 609.3 V592.6 H532.4 V627.4" stroke="#333" stroke-width="0.6" fill="none"/>
<text class="sf" x="514.2" y="587.5" font-size="7.6" text-anchor="middle">0.0352</text>
<path d="M496.3 630.2 V622.6 H514.3 V630.2" stroke="#333" stroke-width="0.6" fill="none"/>
<text class="sf" x="504.3" y="618.5" font-size="7.6" text-anchor="middle">0.0037</text>
<rect x="558.30" y="525.30" width="8.80" height="6.80" fill="#000"/>
<text class="sf" x="572.2" y="531.5" font-size="8.74">siControl</text>
<rect x="558.30" y="538.90" width="8.80" height="6.80" fill="#adadaf"/>
<text class="sf" x="572.2" y="545.1" font-size="8.74">siSNRPD3 #1</text>
<rect x="558.30" y="552.50" width="8.80" height="6.80" fill="#999"/>
<text class="sf" x="572.2" y="558.7" font-size="8.74">siSNRPD3 #2</text>
</g>
<g id="panelE">
<text class="sf b" x="4.6" y="701.5" font-size="25">E</text>
<text class="sf b" x="80.8" y="717.2" font-size="7.5" text-anchor="middle">BIRC5</text>
<text class="sf" x="85.8" y="742.0" font-size="6.66" text-anchor="end">MYCN-/SNRPD3 + (Wildtype)</text>
<text class="sf" x="85.8" y="761.2" font-size="6.66" text-anchor="end">MYCN + / SNRPD3 +</text>
<text class="sf" x="85.8" y="779.8" font-size="6.66" text-anchor="end">MYCN + / SNRPD3 #1 -</text>
<text class="sf" x="85.8" y="800.3" font-size="6.66" text-anchor="end">MYCN + / SNRPD3 #2 -</text>
<text class="sf" x="85.8" y="819.9" font-size="6.66" text-anchor="end">MYCN - / SNRPD3 #1 -</text>
<text class="sf" x="85.8" y="837.3" font-size="6.66" text-anchor="end">MYCN - / SNRPD3 #2 -</text>
<path d="M91.5 745.7 L91.5 739.8 L92.2 738.1 L92.9 737.2 L93.6 737.1 L94.3 737.4 L95.0 737.4 L95.8 736.9 L96.5 737.2 L97.2 737.2 L97.9 736.7 L98.6 737.0 L99.3 736.8 L100.0 737.0 L100.7 736.9 L101.4 737.2 L102.1 736.9 L102.8 736.8 L103.6 737.0 L104.3 736.8 L105.0 736.8 L105.7 737.2 L106.4 736.7 L107.1 736.8 L107.8 736.9 L108.5 737.0 L109.2 736.5 L109.9 736.7 L110.7 736.5 L111.4 736.3 L112.1 736.3 L112.8 736.2 L113.5 736.4 L114.2 736.1 L114.9 736.3 L115.6 736.0 L116.3 736.0 L117.0 736.4 L117.7 736.3 L118.5 736.3 L119.2 735.8 L119.9 736.1 L120.6 736.0 L121.3 736.2 L122.0 736.1 L122.7 736.1 L123.4 736.2 L124.1 736.0 L124.8 736.1 L125.5 735.9 L126.3 736.0 L127.0 735.9 L127.7 735.9 L128.4 735.9 L129.1 736.1 L129.8 736.4 L129.8 745.7Z M188.4 745.7 L188.4 738.9 L189.1 737.1 L189.8 736.5 L190.5 736.4 L191.2 736.7 L191.9 736.3 L192.6 736.5 L193.3 736.7 L194.0 736.8 L194.8 736.4 L195.5 736.3 L196.2 736.9 L196.9 736.6 L197.6 736.9 L198.3 737.1 L199.0 737.1 L199.7 736.9 L200.4 737.0 L201.1 737.6 L201.8 737.3 L202.5 737.7 L203.2 737.3 L203.9 737.6 L204.6 737.3 L205.3 737.2 L206.0 737.5 L206.8 737.2 L207.5 737.6 L208.2 737.8 L208.9 737.4 L209.6 737.8 L210.3 737.7 L211.0 737.6 L211.7 737.5 L212.4 737.8 L212.4 745.7Z M259.9 745.7 L259.9 738.6 L260.6 736.8 L261.3 735.6 L262.0 735.6 L262.7 735.8 L263.5 735.7 L264.2 735.6 L264.9 735.5 L265.6 735.5 L266.3 735.6 L267.0 735.6 L267.7 735.5 L268.4 736.0 L269.1 736.2 L269.8 736.3 L270.6 736.7 L271.3 736.7 L272.0 736.2 L272.7 736.3 L273.4 736.1 L274.1 736.3 L274.8 736.0 L275.5 735.8 L276.2 736.1 L276.9 735.7 L277.7 735.7 L278.4 736.1 L279.1 735.8 L279.8 735.9 L280.5 735.7 L281.2 735.9 L281.9 735.7 L282.6 735.7 L283.3 736.1 L284.1 736.0 L284.8 735.6 L285.5 735.4 L286.2 735.8 L286.9 735.7 L287.6 735.5 L288.3 735.7 L289.0 735.6 L289.7 735.6 L290.4 735.6 L291.2 735.4 L291.9 735.6 L292.6 735.5 L293.3 735.3 L294.0 735.7 L294.7 735.4 L295.4 735.4 L296.1 735.7 L296.8 735.8 L297.5 735.5 L298.3 735.8 L299.0 735.9 L299.7 735.9 L300.4 735.8 L301.1 736.2 L301.1 745.7Z M91.5 765.1 L91.5 760.5 L92.2 758.7 L92.9 758.3 L93.6 757.9 L94.3 758.2 L95.0 758.0 L95.8 757.7 L96.5 757.5 L97.2 757.7 L97.9 757.8 L98.6 757.7 L99.3 757.4 L100.0 757.6 L100.7 757.1 L101.4 757.0 L102.1 757.3 L102.8 757.2 L103.6 756.8 L104.3 756.8 L105.0 756.6 L105.7 756.7 L106.4 756.7 L107.1 756.5 L107.8 756.1 L108.5 756.3 L109.2 756.2 L109.9 756.0 L110.7 755.9 L111.4 755.8 L112.1 755.4 L112.8 755.7 L113.5 755.7 L114.2 755.0 L114.9 755.0 L115.6 754.8 L116.3 755.1 L117.0 754.7 L117.7 754.7 L118.5 755.0 L119.2 754.7 L119.9 754.6 L120.6 754.6 L121.3 754.7 L122.0 754.7 L122.7 754.7 L123.4 754.7 L124.1 754.8 L124.8 754.4 L125.5 754.6 L126.3 754.2 L127.0 754.6 L127.7 754.0 L128.4 754.1 L129.1 753.9 L129.8 753.9 L129.8 765.1Z M188.4 765.1 L188.4 759.6 L189.1 758.4 L189.8 757.3 L190.5 757.6 L191.2 757.5 L191.9 757.3 L192.6 757.4 L193.3 757.4 L194.0 757.1 L194.8 757.3 L195.5 757.5 L196.2 757.7 L196.9 757.4 L197.6 757.7 L198.3 757.5 L199.0 757.9 L199.7 758.0 L200.4 757.9 L201.1 757.8 L201.8 758.2 L202.5 757.9 L203.2 757.8 L203.9 757.9 L204.6 757.9 L205.3 758.4 L206.0 758.0 L206.8 757.8 L207.5 758.3 L208.2 758.1 L208.9 758.1 L209.6 757.9 L210.3 758.0 L211.0 758.0 L211.7 757.8 L212.4 758.3 L212.4 765.1Z M259.9 765.1 L259.9 758.4 L260.6 756.4 L261.3 755.6 L262.0 754.9 L262.7 754.9 L263.5 755.2 L264.2 754.9 L264.9 754.9 L265.6 754.9 L266.3 754.8 L267.0 754.6 L267.7 754.7 L268.4 755.0 L269.1 755.3 L269.8 755.3 L270.6 755.6 L271.3 755.3 L272.0 755.1 L272.7 755.1 L273.4 755.1 L274.1 754.8 L274.8 754.6 L275.5 754.4 L276.2 754.2 L276.9 754.4 L277.7 754.2 L278.4 754.3 L279.1 754.4 L279.8 754.4 L280.5 754.3 L281.2 754.2 L281.9 754.3 L282.6 754.1 L283.3 754.2 L284.1 754.4 L284.8 754.2 L285.5 754.0 L286.2 754.4 L286.9 754.2 L287.6 754.2 L288.3 753.9 L289.0 753.8 L289.7 754.2 L290.4 753.9 L291.2 754.0 L291.9 754.3 L292.6 754.2 L293.3 754.5 L294.0 754.1 L294.7 754.3 L295.4 754.2 L296.1 754.3 L296.8 754.5 L297.5 754.6 L298.3 754.8 L299.0 755.2 L299.7 755.0 L300.4 755.5 L301.1 755.5 L301.1 765.1Z M91.5 782.0 L91.5 778.6 L92.2 777.3 L92.9 776.7 L93.6 776.0 L94.3 776.2 L95.0 776.1 L95.8 775.5 L96.5 775.7 L97.2 775.1 L97.9 775.0 L98.6 774.8 L99.3 774.5 L100.0 774.6 L100.7 774.3 L101.4 774.6 L102.1 774.1 L102.8 774.1 L103.6 773.8 L104.3 774.1 L105.0 773.6 L105.7 773.4 L106.4 773.8 L107.1 773.5 L107.8 773.3 L108.5 773.1 L109.2 773.3 L109.9 773.3 L110.7 773.2 L111.4 772.9 L112.1 772.7 L112.8 772.9 L113.5 772.8 L114.2 772.7 L114.9 772.7 L115.6 772.6 L116.3 772.7 L117.0 772.3 L117.7 772.0 L118.5 772.2 L119.2 771.9 L119.9 772.1 L120.6 771.7 L121.3 771.6 L122.0 771.5 L122.7 771.5 L123.4 771.4 L124.1 771.1 L124.8 770.9 L125.5 771.2 L126.3 771.1 L127.0 770.6 L127.7 770.4 L128.4 770.5 L129.1 770.4 L129.8 770.2 L129.8 782.0Z M188.4 782.0 L188.4 779.4 L189.1 778.6 L189.8 778.1 L190.5 778.2 L191.2 778.3 L191.9 778.0 L192.6 777.9 L193.3 778.3 L194.0 778.1 L194.8 778.3 L195.5 778.0 L196.2 778.2 L196.9 778.4 L197.6 778.4 L198.3 778.5 L199.0 778.2 L199.7 778.2 L200.4 778.2 L201.1 778.0 L201.8 778.0 L202.5 777.6 L203.2 777.9 L203.9 777.3 L204.6 777.6 L205.3 777.4 L206.0 777.5 L206.8 777.2 L207.5 777.2 L208.2 777.4 L208.9 777.4 L209.6 777.3 L210.3 777.3 L211.0 777.6 L211.7 777.4 L212.4 777.3 L212.4 782.0Z M259.9 782.0 L259.9 775.7 L260.6 773.9 L261.3 772.9 L262.0 772.9 L262.7 772.7 L263.5 772.7 L264.2 773.0 L264.9 773.0 L265.6 772.9 L266.3 772.9 L267.0 772.6 L267.7 772.5 L268.4 772.6 L269.1 773.1 L269.8 772.8 L270.6 773.2 L271.3 773.0 L272.0 772.7 L272.7 772.8 L273.4 772.5 L274.1 771.7 L274.8 771.8 L275.5 771.6 L276.2 771.3 L276.9 771.1 L277.7 771.5 L278.4 771.2 L279.1 771.1 L279.8 771.0 L280.5 771.1 L281.2 770.8 L281.9 770.6 L282.6 770.9 L283.3 770.8 L284.1 771.1 L284.8 771.0 L285.5 770.9 L286.2 771.2 L286.9 770.8 L287.6 770.9 L288.3 771.4 L289.0 771.0 L289.7 771.4 L290.4 771.3 L291.2 771.4 L291.9 771.7 L292.6 771.6 L293.3 771.7 L294.0 771.7 L294.7 772.1 L295.4 771.8 L296.1 771.8 L296.8 772.0 L297.5 772.2 L298.3 772.5 L299.0 772.3 L299.7 772.4 L300.4 772.2 L301.1 772.3 L301.1 782.0Z M91.5 803.7 L91.5 800.2 L92.2 798.6 L92.9 798.0 L93.6 798.1 L94.3 797.5 L95.0 797.5 L95.8 797.7 L96.5 797.1 L97.2 797.4 L97.9 797.1 L98.6 796.8 L99.3 796.7 L100.0 796.6 L100.7 796.4 L101.4 796.3 L102.1 796.2 L102.8 796.2 L103.6 796.1 L104.3 795.6 L105.0 795.4 L105.7 795.4 L106.4 795.1 L107.1 795.2 L107.8 795.1 L108.5 794.9 L109.2 794.5 L109.9 794.9 L110.7 794.6 L111.4 794.6 L112.1 794.2 L112.8 794.4 L113.5 794.3 L114.2 794.2 L114.9 794.0 L115.6 793.8 L116.3 794.0 L117.0 793.7 L117.7 794.0 L118.5 793.9 L119.2 793.9 L119.9 793.8 L120.6 793.4 L121.3 793.3 L122.0 793.6 L122.7 793.5 L123.4 793.3 L124.1 793.0 L124.8 792.8 L125.5 792.8 L126.3 792.7 L127.0 792.9 L127.7 792.6 L128.4 792.6 L129.1 792.3 L129.8 792.2 L129.8 803.7Z M188.4 803.7 L188.4 801.2 L189.1 800.2 L189.8 800.3 L190.5 799.8 L191.2 799.7 L191.9 799.6 L192.6 800.0 L193.3 799.9 L194.0 799.9 L194.8 799.8 L195.5 799.6 L196.2 799.7 L196.9 799.9 L197.6 799.6 L198.3 799.7 L199.0 799.6 L199.7 799.4 L200.4 799.7 L201.1 799.2 L201.8 799.1 L202.5 799.1 L203.2 799.0 L203.9 798.9 L204.6 799.0 L205.3 798.7 L206.0 799.0 L206.8 798.7 L207.5 798.5 L208.2 798.6 L208.9 798.5 L209.6 798.3 L210.3 798.3 L211.0 798.8 L211.7 798.4 L212.4 798.5 L212.4 803.7Z M259.9 803.7 L259.9 797.4 L260.6 795.5 L261.3 794.8 L262.0 794.4 L262.7 794.0 L263.5 794.3 L264.2 793.8 L264.9 793.8 L265.6 794.1 L266.3 793.6 L267.0 793.8 L267.7 793.6 L268.4 793.9 L269.1 794.0 L269.8 794.4 L270.6 794.2 L271.3 794.1 L272.0 794.0 L272.7 794.1 L273.4 793.7 L274.1 793.6 L274.8 793.7 L275.5 793.7 L276.2 793.6 L276.9 793.5 L277.7 793.5 L278.4 793.3 L279.1 793.1 L279.8 793.2 L280.5 793.2 L281.2 793.1 L281.9 793.3 L282.6 793.1 L283.3 792.9 L284.1 793.1 L284.8 793.2 L285.5 792.8 L286.2 792.8 L286.9 793.0 L287.6 793.0 L288.3 792.9 L289.0 792.8 L289.7 793.0 L290.4 793.2 L291.2 793.1 L291.9 792.7 L292.6 793.1 L293.3 793.0 L294.0 793.2 L294.7 793.2 L295.4 793.3 L296.1 793.2 L296.8 793.5 L297.5 793.6 L298.3 793.7 L299.0 793.7 L299.7 793.7 L300.4 794.0 L301.1 794.2 L301.1 803.7Z M91.5 823.6 L91.5 817.4 L92.2 815.4 L92.9 815.0 L93.6 814.8 L94.3 814.7 L95.0 814.9 L95.8 814.3 L96.5 814.7 L97.2 814.7 L97.9 814.4 L98.6 814.6 L99.3 814.2 L100.0 814.4 L100.7 814.4 L101.4 814.4 L102.1 813.9 L102.8 814.1 L103.6 813.7 L104.3 813.8 L105.0 813.5 L105.7 813.8 L106.4 813.7 L107.1 813.6 L107.8 813.2 L108.5 813.2 L109.2 813.3 L109.9 813.4 L110.7 813.0 L111.4 812.8 L112.1 812.9 L112.8 813.2 L113.5 813.2 L114.2 813.1 L114.9 813.0 L115.6 813.1 L116.3 813.0 L117.0 812.7 L117.7 812.5 L118.5 812.9 L119.2 812.4 L119.9 812.7 L120.6 812.5 L121.3 812.4 L122.0 812.4 L122.7 812.9 L123.4 812.7 L124.1 812.5 L124.8 812.3 L125.5 812.8 L126.3 812.6 L127.0 812.3 L127.7 812.6 L128.4 812.4 L129.1 812.4 L129.8 812.1 L129.8 823.6Z M188.4 823.6 L188.4 817.5 L189.1 815.5 L189.8 814.7 L190.5 814.6 L191.2 814.7 L191.9 814.5 L192.6 814.8 L193.3 814.7 L194.0 814.8 L194.8 814.5 L195.5 814.7 L196.2 814.8 L196.9 814.9 L197.6 814.7 L198.3 814.8 L199.0 814.8 L199.7 815.0 L200.4 815.0 L201.1 815.2 L201.8 814.9 L202.5 815.3 L203.2 815.0 L203.9 814.8 L204.6 814.8 L205.3 815.1 L206.0 814.9 L206.8 814.5 L207.5 814.6 L208.2 814.4 L208.9 814.3 L209.6 814.6 L210.3 814.3 L211.0 814.4 L211.7 814.6 L212.4 814.6 L212.4 823.6Z M259.9 823.6 L259.9 816.1 L260.6 813.7 L261.3 813.3 L262.0 812.9 L262.7 813.1 L263.5 813.1 L264.2 812.7 L264.9 812.9 L265.6 813.1 L266.3 813.0 L267.0 812.8 L267.7 812.9 L268.4 813.5 L269.1 813.5 L269.8 813.3 L270.6 813.9 L271.3 813.7 L272.0 813.7 L272.7 813.4 L273.4 813.3 L274.1 813.0 L274.8 813.1 L275.5 813.2 L276.2 813.2 L276.9 813.2 L277.7 812.8 L278.4 813.2 L279.1 813.2 L279.8 812.7 L280.5 813.1 L281.2 812.7 L281.9 813.1 L282.6 812.9 L283.3 813.0 L284.1 812.6 L284.8 812.7 L285.5 812.6 L286.2 812.5 L286.9 812.4 L287.6 812.7 L288.3 812.5 L289.0 812.6 L289.7 812.7 L290.4 812.3 L291.2 812.4 L291.9 812.3 L292.6 812.6 L293.3 812.5 L294.0 812.5 L294.7 812.4 L295.4 812.8 L296.1 812.7 L296.8 812.6 L297.5 812.9 L298.3 812.7 L299.0 812.7 L299.7 812.9 L300.4 812.9 L301.1 812.9 L301.1 823.6Z M91.5 841.8 L91.5 836.3 L92.2 834.2 L92.9 833.8 L93.6 833.6 L94.3 833.8 L95.0 833.6 L95.8 833.6 L96.5 833.0 L97.2 833.1 L97.9 833.0 L98.6 832.9 L99.3 833.0 L100.0 832.8 L100.7 833.0 L101.4 833.0 L102.1 832.7 L102.8 832.7 L103.6 832.6 L104.3 832.8 L105.0 832.6 L105.7 832.7 L106.4 832.3 L107.1 832.3 L107.8 832.6 L108.5 832.1 L109.2 832.5 L109.9 832.5 L110.7 832.0 L111.4 832.2 L112.1 832.0 L112.8 831.8 L113.5 832.1 L114.2 831.5 L114.9 831.7 L115.6 831.6 L116.3 831.5 L117.0 831.2 L117.7 831.2 L118.5 831.4 L119.2 831.4 L119.9 831.2 L120.6 831.1 L121.3 831.3 L122.0 831.2 L122.7 830.8 L123.4 830.8 L124.1 830.6 L124.8 830.6 L125.5 830.7 L126.3 830.9 L127.0 831.1 L127.7 830.9 L128.4 830.8 L129.1 830.8 L129.8 830.7 L129.8 841.8Z M188.4 841.8 L188.4 835.6 L189.1 834.2 L189.8 833.4 L190.5 833.2 L191.2 833.3 L191.9 833.6 L192.6 833.7 L193.3 833.4 L194.0 833.8 L194.8 833.8 L195.5 833.5 L196.2 833.5 L196.9 833.6 L197.6 833.7 L198.3 833.5 L199.0 833.1 L199.7 833.2 L200.4 832.8 L201.1 832.9 L201.8 832.7 L202.5 833.2 L203.2 833.1 L203.9 833.2 L204.6 833.0 L205.3 833.0 L206.0 833.2 L206.8 833.0 L207.5 833.3 L208.2 833.2 L208.9 833.2 L209.6 832.9 L210.3 833.2 L211.0 833.3 L211.7 833.4 L212.4 833.1 L212.4 841.8Z M259.9 841.8 L259.9 835.1 L260.6 833.1 L261.3 832.4 L262.0 832.7 L262.7 832.8 L263.5 832.3 L264.2 832.3 L264.9 832.4 L265.6 832.2 L266.3 832.3 L267.0 832.5 L267.7 832.6 L268.4 832.8 L269.1 832.6 L269.8 832.5 L270.6 832.6 L271.3 832.8 L272.0 832.5 L272.7 832.1 L273.4 831.9 L274.1 831.7 L274.8 831.6 L275.5 831.4 L276.2 831.6 L276.9 831.5 L277.7 831.2 L278.4 831.0 L279.1 831.2 L279.8 831.3 L280.5 831.3 L281.2 831.3 L281.9 831.1 L282.6 831.3 L283.3 831.1 L284.1 831.6 L284.8 831.5 L285.5 831.5 L286.2 831.6 L286.9 831.3 L287.6 831.4 L288.3 831.4 L289.0 831.6 L289.7 832.0 L290.4 831.7 L291.2 831.7 L291.9 831.8 L292.6 831.9 L293.3 831.6 L294.0 831.5 L294.7 832.0 L295.4 831.6 L296.1 831.8 L296.8 831.7 L297.5 831.4 L298.3 831.3 L299.0 831.5 L299.7 831.7 L300.4 831.3 L301.1 831.7 L301.1 841.8Z" fill="#000"/>
<text class="sf" x="199.4" y="709.4" font-size="6.6" text-anchor="middle">SE</text>
<path d="M129.8 735.6 L200.2 714.3 L259.9 736" stroke="#333" stroke-width="0.5" fill="none" stroke-dasharray="1.2 0.9"/>
<text class="sf" x="303.9" y="719.4" font-size="6.6">n=3</text>
<path d="M304.6 739.3 H316.1 V798.6 H304.6 M304.6 776.4 H316.1" stroke="#222" stroke-width="0.8" fill="none"/>
<text class="ss" x="319.5" y="757.8" font-size="6.0" fill="#222">p=2.2x10<tspan dy="-2.4" font-size="3.6">-16</tspan></text>
<text class="ss" x="319.5" y="789.7" font-size="6.0" fill="#222">p= 8.2x10<tspan dy="-2.4" font-size="3.6">-9</tspan></text>
<path d="M320.7 815.2 L214 784.4 M222.8 787.1 L210.6 795.6" stroke="#c11" stroke-width="0.75" fill="none"/>
<path d="M213.6 784.3 l2.4 -0.6 l-0.5 2z M210.3 795.9 l1 -2.1 l1.3 1.5z" stroke="#c11" stroke-width="0.4" fill="#c11"/>
<text class="sf" x="321.5" y="817.8" font-size="6.8">Skipped</text>
<text class="sf" x="332.7" y="825.6" font-size="6.8" text-anchor="middle">exon</text>
<text class="sf" x="293.2" y="852.2" font-size="6.8" font-style="italic">5’</text>
<text class="sf" x="316.6" y="852.2" font-size="6.8" text-anchor="end" font-style="italic">3’</text>
<path d="M302.4 849.9 H307.2 M305 847.8 L307.4 849.9 L305 852" stroke="#000" stroke-width="0.9" fill="none"/>
<line x1="88.00" y1="859.90" x2="304.50" y2="859.90" stroke="#66f" stroke-width="0.5" stroke-dasharray="1.6 0.8"/>
<rect x="91.50" y="857.80" width="38.30" height="4.20" fill="#11f"/>
<rect x="188.40" y="857.80" width="24.00" height="4.20" fill="#11f"/>
<rect x="259.90" y="857.80" width="41.20" height="4.20" fill="#11f"/>
<circle cx="100.4" cy="859.9" r="0.5" fill="#bbf"/>
<circle cx="110.4" cy="859.9" r="0.5" fill="#bbf"/>
<circle cx="120.1" cy="859.9" r="0.5" fill="#bbf"/>
<circle cx="197.6" cy="859.9" r="0.5" fill="#bbf"/>
<circle cx="207.6" cy="859.9" r="0.5" fill="#bbf"/>
<circle cx="269.2" cy="859.9" r="0.5" fill="#bbf"/>
<circle cx="278.8" cy="859.9" r="0.5" fill="#bbf"/>
<circle cx="288.4" cy="859.9" r="0.5" fill="#bbf"/>
<circle cx="297.9" cy="859.9" r="0.5" fill="#bbf"/>
<text class="sf" x="83.8" y="861.8" font-size="6.6" text-anchor="end">BIRC5 pre-mRNA</text>
<text class="sf" x="110.4" y="874.8" font-size="6.6" text-anchor="middle">Exon 2</text>
<text class="sf" x="201.2" y="875.2" font-size="6.6" text-anchor="middle">Exon 3</text>
<text class="sf" x="279.4" y="874.6" font-size="6.6" text-anchor="middle">Exon 4</text>
<text class="sf b" x="456.1" y="708.8" font-size="8.2" text-anchor="middle">CDK10</text>
<text class="sf" x="461.2" y="735.2" font-size="7.06" text-anchor="end">MYCN-/SNRPD3 + (Wildtype)</text>
<text class="sf" x="461.2" y="755.0" font-size="7.06" text-anchor="end">MYCN + / SNRPD3 +</text>
<text class="sf" x="461.2" y="775.4" font-size="7.06" text-anchor="end">MYCN + / SNRPD3 #1 -</text>
<text class="sf" x="461.2" y="797.0" font-size="7.06" text-anchor="end">MYCN + / SNRPD3 #2 -</text>
<text class="sf" x="461.2" y="818.1" font-size="7.06" text-anchor="end">MYCN - / SNRPD3 #1 -</text>
<text class="sf" x="461.2" y="836.0" font-size="7.06" text-anchor="end">MYCN - / SNRPD3 #2 -</text>
<path d="M465.8 738.0 L465.8 730.5 L466.5 728.7 L467.2 727.9 L467.9 727.6 L468.6 727.6 L469.3 727.9 L470.0 727.9 L470.7 728.0 L471.5 728.1 L472.2 728.0 L472.9 727.6 L473.6 728.1 L474.3 728.0 L475.0 728.0 L475.7 728.1 L476.4 727.9 L477.1 727.7 L477.8 727.7 L478.5 727.7 L479.2 727.6 L479.9 728.0 L480.6 727.8 L481.3 727.4 L482.1 727.9 L482.8 727.7 L483.5 727.6 L484.2 727.6 L484.9 727.4 L485.6 727.6 L486.3 727.5 L487.0 727.1 L487.7 727.5 L488.4 727.1 L489.1 727.4 L489.8 727.0 L490.5 727.1 L491.2 727.1 L491.9 727.3 L492.7 727.4 L493.4 727.0 L494.1 727.3 L494.8 727.3 L495.5 727.0 L496.2 727.0 L496.9 727.4 L497.6 726.9 L498.3 727.2 L499.0 727.3 L499.7 727.4 L500.4 727.3 L501.1 727.0 L501.8 727.4 L502.5 727.4 L503.3 727.4 L504.0 727.5 L504.7 727.3 L505.4 727.0 L506.1 727.5 L506.8 727.4 L507.5 727.0 L508.2 726.9 L508.2 738.0Z M508.0 738.0 L508.0 735.1 L508.7 735.1 L509.4 734.8 L510.1 735.0 L510.8 734.8 L511.5 735.0 L512.2 735.1 L512.9 735.0 L513.6 734.7 L514.3 734.7 L515.0 734.8 L515.8 734.8 L516.5 734.8 L517.2 734.8 L517.9 734.8 L518.6 734.6 L519.3 734.9 L520.0 734.7 L520.7 734.6 L521.4 734.6 L522.1 734.9 L522.8 734.5 L523.5 734.6 L524.2 734.9 L524.9 734.9 L525.6 734.9 L526.3 735.0 L527.0 734.5 L527.7 734.8 L528.4 734.6 L529.1 735.0 L529.9 735.0 L530.6 734.6 L531.3 734.6 L532.0 734.6 L532.7 734.7 L533.4 734.8 L534.1 734.7 L534.8 735.0 L535.5 734.8 L536.2 734.8 L536.9 735.0 L537.6 734.7 L538.3 734.9 L539.0 734.8 L539.7 734.8 L540.4 734.8 L541.1 734.8 L541.8 734.7 L542.5 734.5 L543.2 734.5 L544.0 734.5 L544.7 734.5 L545.4 734.8 L546.1 734.4 L546.8 734.7 L547.5 734.8 L548.2 734.6 L548.9 734.5 L549.6 734.6 L550.3 734.5 L551.0 734.6 L551.7 734.3 L552.4 734.5 L553.1 734.5 L553.8 734.4 L554.5 734.2 L555.2 734.2 L555.9 734.4 L556.6 734.4 L557.3 734.3 L558.1 734.6 L558.8 734.4 L559.5 734.2 L560.2 734.2 L560.9 734.6 L561.6 734.2 L562.3 734.4 L563.0 734.1 L563.7 734.4 L564.4 734.5 L565.1 734.3 L565.1 738.0Z M564.9 738.0 L564.9 726.5 L565.6 726.3 L566.3 726.4 L567.0 726.6 L567.7 726.6 L568.4 726.5 L569.1 726.6 L569.8 726.6 L570.5 726.4 L571.2 726.3 L571.9 726.5 L572.6 726.7 L573.3 726.7 L574.0 726.6 L574.8 726.5 L575.5 726.7 L576.2 726.8 L576.9 726.7 L577.6 726.7 L578.3 726.9 L579.0 726.7 L579.7 726.5 L580.4 726.7 L581.1 726.7 L581.8 726.7 L582.5 726.7 L583.2 726.7 L583.9 727.0 L584.6 726.9 L585.3 727.3 L586.0 726.9 L586.7 727.2 L587.4 727.2 L588.1 727.1 L588.8 727.5 L589.5 727.6 L590.2 727.3 L590.9 727.5 L591.6 727.8 L592.3 727.9 L593.0 727.8 L593.8 728.0 L594.5 727.6 L595.2 728.0 L595.9 728.0 L596.6 728.0 L597.3 728.0 L598.0 728.0 L598.7 728.0 L599.4 728.0 L600.1 728.1 L600.8 728.3 L601.5 727.9 L602.2 728.1 L602.9 728.4 L603.6 728.2 L604.3 728.1 L605.0 728.0 L605.7 728.4 L606.4 728.5 L607.1 728.3 L607.8 728.3 L608.5 728.1 L609.2 728.1 L609.9 728.3 L610.6 728.3 L611.3 728.2 L612.1 728.1 L612.8 728.4 L613.5 728.3 L614.2 728.5 L614.9 728.2 L615.6 728.6 L616.3 728.1 L617.0 728.4 L617.7 728.4 L618.4 728.6 L619.1 728.6 L619.8 728.5 L620.5 728.4 L621.2 728.6 L621.2 738.0Z M621 738 V735.6 L624.0 736.2 V738Z M465.8 757.7 L465.8 749.4 L466.5 747.2 L467.2 746.4 L467.9 746.5 L468.6 746.5 L469.3 746.2 L470.0 746.6 L470.7 746.4 L471.5 746.4 L472.2 746.5 L472.9 746.3 L473.6 746.3 L474.3 746.3 L475.0 746.4 L475.7 746.7 L476.4 746.8 L477.1 746.6 L477.8 746.6 L478.5 746.7 L479.2 746.3 L479.9 746.6 L480.6 746.3 L481.3 746.2 L482.1 746.6 L482.8 746.2 L483.5 746.4 L484.2 746.5 L484.9 746.4 L485.6 746.5 L486.3 746.2 L487.0 746.2 L487.7 745.9 L488.4 745.9 L489.1 746.2 L489.8 746.0 L490.5 746.0 L491.2 746.1 L491.9 746.0 L492.7 746.0 L493.4 745.7 L494.1 745.9 L494.8 746.0 L495.5 745.9 L496.2 745.8 L496.9 745.7 L497.6 745.9 L498.3 745.7 L499.0 745.9 L499.7 745.7 L500.4 745.8 L501.1 746.0 L501.8 745.7 L502.5 745.9 L503.3 745.8 L504.0 745.8 L504.7 745.8 L505.4 745.9 L506.1 746.1 L506.8 745.8 L507.5 745.7 L508.2 745.9 L508.2 757.7Z M508.0 757.7 L508.0 753.3 L508.7 752.9 L509.4 753.1 L510.1 753.3 L510.8 753.0 L511.5 752.9 L512.2 753.2 L512.9 752.9 L513.6 753.1 L514.3 753.3 L515.0 753.0 L515.8 753.2 L516.5 753.0 L517.2 753.0 L517.9 753.2 L518.6 753.0 L519.3 752.8 L520.0 753.0 L520.7 753.0 L521.4 752.8 L522.1 753.0 L522.8 752.9 L523.5 752.9 L524.2 752.7 L524.9 753.0 L525.6 753.0 L526.3 752.7 L527.0 752.8 L527.7 752.9 L528.4 752.6 L529.1 752.5 L529.9 752.7 L530.6 752.5 L531.3 752.5 L532.0 752.5 L532.7 752.8 L533.4 752.9 L534.1 752.5 L534.8 752.5 L535.5 752.7 L536.2 752.6 L536.9 752.6 L537.6 752.7 L538.3 752.5 L539.0 752.6 L539.7 752.6 L540.4 752.8 L541.1 752.6 L541.8 752.7 L542.5 752.5 L543.2 752.7 L544.0 752.6 L544.7 752.7 L545.4 752.6 L546.1 752.5 L546.8 752.8 L547.5 752.8 L548.2 752.6 L548.9 752.7 L549.6 752.6 L550.3 752.8 L551.0 752.8 L551.7 752.6 L552.4 752.4 L553.1 752.4 L553.8 752.5 L554.5 752.6 L555.2 752.8 L555.9 752.6 L556.6 752.6 L557.3 752.3 L558.1 752.7 L558.8 752.2 L559.5 752.5 L560.2 752.5 L560.9 752.5 L561.6 752.2 L562.3 752.5 L563.0 752.3 L563.7 752.3 L564.4 752.5 L565.1 752.4 L565.1 757.7Z M564.9 757.7 L564.9 744.8 L565.6 744.8 L566.3 744.7 L567.0 745.1 L567.7 744.7 L568.4 744.7 L569.1 744.9 L569.8 744.8 L570.5 744.5 L571.2 744.9 L571.9 744.6 L572.6 744.9 L573.3 744.7 L574.0 744.9 L574.8 744.8 L575.5 744.8 L576.2 744.6 L576.9 744.7 L577.6 744.8 L578.3 744.7 L579.0 744.9 L579.7 744.7 L580.4 745.0 L581.1 744.9 L581.8 744.9 L582.5 745.0 L583.2 745.2 L583.9 745.2 L584.6 745.0 L585.3 745.3 L586.0 745.0 L586.7 745.2 L587.4 745.0 L588.1 745.1 L588.8 745.2 L589.5 745.4 L590.2 745.6 L590.9 745.3 L591.6 745.3 L592.3 745.2 L593.0 745.6 L593.8 745.6 L594.5 745.2 L595.2 745.4 L595.9 745.5 L596.6 745.4 L597.3 745.7 L598.0 745.5 L598.7 745.4 L599.4 745.4 L600.1 745.6 L600.8 745.6 L601.5 745.4 L602.2 745.2 L602.9 745.6 L603.6 745.6 L604.3 745.5 L605.0 745.2 L605.7 745.4 L606.4 745.3 L607.1 745.0 L607.8 745.2 L608.5 745.3 L609.2 745.1 L609.9 745.4 L610.6 745.3 L611.3 745.1 L612.1 745.3 L612.8 745.4 L613.5 745.2 L614.2 745.3 L614.9 744.9 L615.6 745.4 L616.3 745.1 L617.0 745.3 L617.7 745.1 L618.4 745.3 L619.1 745.2 L619.8 745.4 L620.5 745.5 L621.2 745.4 L621.2 757.7Z M621 757.7 V755.3000000000001 L624.0 755.9000000000001 V757.7Z M465.8 778.1 L465.8 770.1 L466.5 767.9 L467.2 766.9 L467.9 767.0 L468.6 766.9 L469.3 766.7 L470.0 766.7 L470.7 766.6 L471.5 766.7 L472.2 766.8 L472.9 766.7 L473.6 766.5 L474.3 766.6 L475.0 766.3 L475.7 766.5 L476.4 766.2 L477.1 766.2 L477.8 766.2 L478.5 766.1 L479.2 766.2 L479.9 766.2 L480.6 766.3 L481.3 766.4 L482.1 766.0 L482.8 766.2 L483.5 766.4 L484.2 766.0 L484.9 766.2 L485.6 766.2 L486.3 766.3 L487.0 766.5 L487.7 766.0 L488.4 766.5 L489.1 766.4 L489.8 766.1 L490.5 766.5 L491.2 766.3 L491.9 766.3 L492.7 766.4 L493.4 766.1 L494.1 766.3 L494.8 766.5 L495.5 766.3 L496.2 766.5 L496.9 766.1 L497.6 766.0 L498.3 765.9 L499.0 766.3 L499.7 766.0 L500.4 766.1 L501.1 766.0 L501.8 766.0 L502.5 766.0 L503.3 766.0 L504.0 765.7 L504.7 766.0 L505.4 765.5 L506.1 765.9 L506.8 765.4 L507.5 765.8 L508.2 765.8 L508.2 778.1Z M508.0 778.1 L508.0 770.4 L508.7 769.8 L509.4 769.8 L510.1 769.6 L510.8 769.8 L511.5 769.3 L512.2 769.3 L512.9 769.0 L513.6 769.4 L514.3 769.3 L515.0 768.9 L515.8 768.6 L516.5 768.8 L517.2 768.6 L517.9 768.5 L518.6 768.5 L519.3 768.4 L520.0 768.3 L520.7 768.5 L521.4 768.3 L522.1 768.0 L522.8 768.1 L523.5 768.0 L524.2 768.0 L524.9 767.9 L525.6 767.7 L526.3 767.6 L527.0 767.5 L527.7 767.7 L528.4 767.8 L529.1 767.7 L529.9 767.8 L530.6 767.7 L531.3 767.5 L532.0 767.5 L532.7 767.6 L533.4 767.7 L534.1 767.7 L534.8 767.7 L535.5 767.5 L536.2 767.6 L536.9 767.3 L537.6 767.5 L538.3 767.6 L539.0 767.6 L539.7 767.8 L540.4 767.5 L541.1 767.5 L541.8 767.7 L542.5 767.5 L543.2 767.7 L544.0 767.8 L544.7 767.8 L545.4 767.8 L546.1 767.5 L546.8 767.5 L547.5 767.5 L548.2 767.7 L548.9 767.4 L549.6 767.5 L550.3 767.5 L551.0 767.4 L551.7 767.4 L552.4 767.5 L553.1 767.3 L553.8 767.2 L554.5 767.1 L555.2 766.9 L555.9 767.2 L556.6 766.8 L557.3 766.8 L558.1 766.8 L558.8 766.6 L559.5 767.0 L560.2 766.6 L560.9 766.5 L561.6 766.8 L562.3 766.5 L563.0 766.3 L563.7 766.6 L564.4 766.2 L565.1 766.2 L565.1 778.1Z M564.9 778.1 L564.9 765.4 L565.6 765.4 L566.3 765.1 L567.0 765.3 L567.7 765.4 L568.4 765.4 L569.1 765.2 L569.8 765.6 L570.5 765.7 L571.2 765.3 L571.9 765.6 L572.6 765.6 L573.3 765.3 L574.0 765.7 L574.8 765.8 L575.5 765.4 L576.2 765.8 L576.9 765.8 L577.6 765.4 L578.3 765.8 L579.0 765.4 L579.7 765.7 L580.4 765.7 L581.1 765.8 L581.8 765.6 L582.5 765.6 L583.2 765.6 L583.9 765.6 L584.6 765.6 L585.3 765.3 L586.0 765.3 L586.7 765.3 L587.4 765.3 L588.1 765.6 L588.8 765.5 L589.5 765.5 L590.2 765.5 L590.9 765.1 L591.6 765.1 L592.3 765.1 L593.0 765.3 L593.8 765.5 L594.5 765.3 L595.2 765.5 L595.9 765.1 L596.6 765.4 L597.3 765.4 L598.0 765.1 L598.7 765.4 L599.4 765.1 L600.1 765.4 L600.8 765.3 L601.5 765.6 L602.2 765.2 L602.9 765.5 L603.6 765.5 L604.3 765.4 L605.0 765.5 L605.7 765.7 L606.4 765.8 L607.1 765.6 L607.8 765.9 L608.5 765.5 L609.2 765.8 L609.9 765.9 L610.6 765.9 L611.3 766.0 L612.1 765.9 L612.8 765.8 L613.5 765.9 L614.2 766.0 L614.9 766.0 L615.6 765.9 L616.3 765.8 L617.0 766.0 L617.7 765.8 L618.4 765.9 L619.1 766.1 L619.8 766.1 L620.5 765.7 L621.2 765.9 L621.2 778.1Z M621 778.1 V775.7 L624.0 776.3000000000001 V778.1Z M465.8 801.7 L465.8 792.2 L466.5 789.4 L467.2 788.5 L467.9 788.6 L468.6 788.6 L469.3 788.8 L470.0 788.5 L470.7 788.6 L471.5 788.6 L472.2 788.6 L472.9 788.6 L473.6 788.5 L474.3 788.8 L475.0 788.4 L475.7 788.8 L476.4 788.4 L477.1 788.7 L477.8 788.4 L478.5 788.6 L479.2 788.7 L479.9 788.4 L480.6 788.2 L481.3 788.2 L482.1 788.2 L482.8 788.1 L483.5 788.5 L484.2 788.3 L484.9 788.4 L485.6 788.0 L486.3 788.1 L487.0 787.9 L487.7 787.8 L488.4 787.7 L489.1 787.8 L489.8 787.7 L490.5 787.9 L491.2 788.1 L491.9 787.7 L492.7 788.0 L493.4 788.0 L494.1 787.7 L494.8 787.9 L495.5 787.8 L496.2 788.1 L496.9 788.0 L497.6 787.8 L498.3 788.1 L499.0 787.9 L499.7 787.7 L500.4 788.1 L501.1 787.8 L501.8 787.8 L502.5 787.9 L503.3 787.8 L504.0 787.9 L504.7 788.2 L505.4 788.1 L506.1 787.9 L506.8 787.7 L507.5 788.0 L508.2 787.8 L508.2 801.7Z M508.0 801.7 L508.0 791.3 L508.7 791.0 L509.4 790.8 L510.1 790.6 L510.8 790.7 L511.5 790.3 L512.2 790.2 L512.9 790.1 L513.6 790.3 L514.3 790.3 L515.0 790.3 L515.8 789.9 L516.5 790.1 L517.2 790.1 L517.9 790.0 L518.6 789.9 L519.3 790.1 L520.0 790.0 L520.7 789.8 L521.4 789.8 L522.1 790.1 L522.8 790.2 L523.5 789.7 L524.2 789.8 L524.9 789.9 L525.6 790.0 L526.3 789.7 L527.0 790.0 L527.7 790.1 L528.4 790.2 L529.1 790.0 L529.9 789.9 L530.6 790.0 L531.3 789.7 L532.0 789.8 L532.7 789.9 L533.4 789.7 L534.1 789.7 L534.8 789.7 L535.5 789.7 L536.2 789.7 L536.9 789.6 L537.6 789.4 L538.3 789.7 L539.0 789.3 L539.7 789.5 L540.4 789.2 L541.1 789.5 L541.8 789.2 L542.5 789.2 L543.2 789.0 L544.0 789.2 L544.7 789.1 L545.4 789.1 L546.1 788.8 L546.8 788.8 L547.5 789.0 L548.2 788.9 L548.9 788.8 L549.6 788.4 L550.3 788.6 L551.0 788.5 L551.7 788.6 L552.4 788.4 L553.1 788.3 L553.8 788.4 L554.5 788.7 L555.2 788.5 L555.9 788.4 L556.6 788.7 L557.3 788.3 L558.1 788.5 L558.8 788.6 L559.5 788.4 L560.2 788.4 L560.9 788.5 L561.6 788.4 L562.3 788.5 L563.0 788.6 L563.7 788.8 L564.4 788.6 L565.1 788.7 L565.1 801.7Z M564.9 801.7 L564.9 787.3 L565.6 787.5 L566.3 787.6 L567.0 787.5 L567.7 787.6 L568.4 787.2 L569.1 787.4 L569.8 787.6 L570.5 787.4 L571.2 787.4 L571.9 787.7 L572.6 787.4 L573.3 787.7 L574.0 787.3 L574.8 787.7 L575.5 787.6 L576.2 787.6 L576.9 787.3 L577.6 787.3 L578.3 787.5 L579.0 787.7 L579.7 787.5 L580.4 787.3 L581.1 787.6 L581.8 787.2 L582.5 787.2 L583.2 787.1 L583.9 787.2 L584.6 787.3 L585.3 787.1 L586.0 787.4 L586.7 787.4 L587.4 787.4 L588.1 787.4 L588.8 787.1 L589.5 787.4 L590.2 787.1 L590.9 787.2 L591.6 787.0 L592.3 787.1 L593.0 787.1 L593.8 787.0 L594.5 787.4 L595.2 787.4 L595.9 787.3 L596.6 787.3 L597.3 787.2 L598.0 787.1 L598.7 787.2 L599.4 787.2 L600.1 787.3 L600.8 787.5 L601.5 787.5 L602.2 787.4 L602.9 787.4 L603.6 787.6 L604.3 787.7 L605.0 787.6 L605.7 787.8 L606.4 787.5 L607.1 788.0 L607.8 787.7 L608.5 787.8 L609.2 788.0 L609.9 787.8 L610.6 787.9 L611.3 787.6 L612.1 787.7 L612.8 787.8 L613.5 787.7 L614.2 787.7 L614.9 788.0 L615.6 787.7 L616.3 787.7 L617.0 787.6 L617.7 787.7 L618.4 787.9 L619.1 788.0 L619.8 787.7 L620.5 787.9 L621.2 787.6 L621.2 801.7Z M621 801.7 V799.3000000000001 L624.0 799.9000000000001 V801.7Z M465.8 819.0 L465.8 814.6 L466.5 813.6 L467.2 813.2 L467.9 812.9 L468.6 813.0 L469.3 813.2 L470.0 813.1 L470.7 813.1 L471.5 813.0 L472.2 813.1 L472.9 813.1 L473.6 812.8 L474.3 812.8 L475.0 812.8 L475.7 813.0 L476.4 813.0 L477.1 812.7 L477.8 812.6 L478.5 812.6 L479.2 812.8 L479.9 812.5 L480.6 812.6 L481.3 812.6 L482.1 812.5 L482.8 812.5 L483.5 812.4 L484.2 812.3 L484.9 812.2 L485.6 812.6 L486.3 812.3 L487.0 812.1 L487.7 812.3 L488.4 812.3 L489.1 812.2 L489.8 812.6 L490.5 812.2 L491.2 812.3 L491.9 812.3 L492.7 812.5 L493.4 812.4 L494.1 812.6 L494.8 812.4 L495.5 812.6 L496.2 812.3 L496.9 812.3 L497.6 812.5 L498.3 812.4 L499.0 812.5 L499.7 812.5 L500.4 812.6 L501.1 812.3 L501.8 812.3 L502.5 812.3 L503.3 812.6 L504.0 812.2 L504.7 812.5 L505.4 812.2 L506.1 812.2 L506.8 812.4 L507.5 812.2 L508.2 811.9 L508.2 819.0Z M508.0 819.0 L508.0 816.2 L508.7 815.9 L509.4 816.1 L510.1 815.9 L510.8 816.1 L511.5 816.3 L512.2 815.8 L512.9 816.3 L513.6 816.2 L514.3 815.9 L515.0 816.2 L515.8 816.0 L516.5 815.8 L517.2 815.9 L517.9 816.0 L518.6 815.8 L519.3 815.8 L520.0 815.9 L520.7 815.8 L521.4 816.0 L522.1 815.9 L522.8 815.6 L523.5 815.6 L524.2 816.1 L524.9 815.9 L525.6 815.9 L526.3 815.6 L527.0 815.9 L527.7 815.9 L528.4 815.6 L529.1 815.9 L529.9 815.4 L530.6 815.7 L531.3 815.5 L532.0 815.5 L532.7 815.8 L533.4 815.5 L534.1 815.7 L534.8 815.8 L535.5 815.8 L536.2 815.5 L536.9 815.6 L537.6 815.7 L538.3 815.4 L539.0 815.8 L539.7 815.6 L540.4 815.8 L541.1 815.7 L541.8 815.4 L542.5 815.6 L543.2 815.8 L544.0 815.8 L544.7 815.6 L545.4 815.8 L546.1 815.5 L546.8 815.9 L547.5 815.5 L548.2 815.6 L548.9 815.5 L549.6 815.7 L550.3 815.9 L551.0 815.8 L551.7 815.6 L552.4 815.9 L553.1 815.8 L553.8 815.5 L554.5 815.4 L555.2 815.4 L555.9 815.4 L556.6 815.5 L557.3 815.4 L558.1 815.4 L558.8 815.5 L559.5 815.5 L560.2 815.7 L560.9 815.7 L561.6 815.6 L562.3 815.5 L563.0 815.6 L563.7 815.2 L564.4 815.3 L565.1 815.2 L565.1 819.0Z M564.9 819.0 L564.9 812.4 L565.6 812.1 L566.3 812.0 L567.0 812.3 L567.7 812.4 L568.4 812.1 L569.1 812.0 L569.8 812.0 L570.5 812.2 L571.2 812.1 L571.9 812.3 L572.6 812.3 L573.3 812.2 L574.0 812.0 L574.8 812.3 L575.5 811.9 L576.2 812.4 L576.9 811.9 L577.6 812.3 L578.3 812.0 L579.0 812.0 L579.7 812.0 L580.4 812.2 L581.1 812.1 L581.8 812.4 L582.5 812.1 L583.2 812.5 L583.9 812.2 L584.6 812.4 L585.3 812.7 L586.0 812.3 L586.7 812.6 L587.4 812.8 L588.1 812.7 L588.8 812.9 L589.5 812.8 L590.2 812.6 L590.9 812.5 L591.6 812.8 L592.3 812.7 L593.0 812.7 L593.8 812.8 L594.5 813.0 L595.2 813.1 L595.9 813.2 L596.6 813.0 L597.3 813.2 L598.0 813.0 L598.7 813.2 L599.4 813.1 L600.1 813.1 L600.8 813.1 L601.5 813.3 L602.2 813.3 L602.9 813.1 L603.6 813.3 L604.3 813.1 L605.0 812.9 L605.7 813.2 L606.4 812.9 L607.1 813.1 L607.8 812.9 L608.5 813.1 L609.2 813.0 L609.9 813.0 L610.6 813.2 L611.3 813.1 L612.1 813.0 L612.8 813.1 L613.5 813.0 L614.2 812.8 L614.9 812.9 L615.6 812.9 L616.3 813.2 L617.0 813.0 L617.7 813.0 L618.4 812.9 L619.1 813.4 L619.8 813.3 L620.5 812.9 L621.2 813.2 L621.2 819.0Z M621 819 V816.6 L624.0 817.2 V819Z M465.8 838.7 L465.8 832.3 L466.5 830.5 L467.2 829.8 L467.9 829.7 L468.6 829.5 L469.3 829.7 L470.0 829.5 L470.7 829.7 L471.5 829.5 L472.2 829.5 L472.9 829.4 L473.6 829.3 L474.3 829.6 L475.0 829.2 L475.7 829.3 L476.4 829.4 L477.1 829.3 L477.8 829.4 L478.5 829.3 L479.2 829.0 L479.9 829.0 L480.6 828.9 L481.3 829.2 L482.1 829.3 L482.8 829.1 L483.5 829.0 L484.2 828.9 L484.9 829.1 L485.6 828.9 L486.3 829.0 L487.0 829.2 L487.7 828.9 L488.4 829.3 L489.1 829.1 L489.8 829.3 L490.5 829.4 L491.2 829.1 L491.9 829.1 L492.7 829.1 L493.4 829.2 L494.1 829.0 L494.8 829.0 L495.5 829.3 L496.2 829.4 L496.9 828.9 L497.6 829.2 L498.3 829.3 L499.0 829.2 L499.7 828.9 L500.4 829.2 L501.1 829.0 L501.8 828.8 L502.5 829.0 L503.3 828.8 L504.0 828.6 L504.7 828.6 L505.4 828.6 L506.1 828.6 L506.8 828.7 L507.5 828.5 L508.2 828.5 L508.2 838.7Z M508.0 838.7 L508.0 836.0 L508.7 835.8 L509.4 836.1 L510.1 835.8 L510.8 835.7 L511.5 836.2 L512.2 836.1 L512.9 835.7 L513.6 836.1 L514.3 835.8 L515.0 835.9 L515.8 836.1 L516.5 835.8 L517.2 836.1 L517.9 835.7 L518.6 835.9 L519.3 835.6 L520.0 835.6 L520.7 836.0 L521.4 835.8 L522.1 835.9 L522.8 835.6 L523.5 835.9 L524.2 835.9 L524.9 835.8 L525.6 835.5 L526.3 835.7 L527.0 835.7 L527.7 835.6 L528.4 835.5 L529.1 835.6 L529.9 835.3 L530.6 835.6 L531.3 835.5 L532.0 835.3 L532.7 835.6 L533.4 835.6 L534.1 835.3 L534.8 835.5 L535.5 835.2 L536.2 835.2 L536.9 835.5 L537.6 835.5 L538.3 835.6 L539.0 835.2 L539.7 835.4 L540.4 835.5 L541.1 835.5 L541.8 835.5 L542.5 835.2 L543.2 835.6 L544.0 835.4 L544.7 835.3 L545.4 835.4 L546.1 835.4 L546.8 835.4 L547.5 835.5 L548.2 835.2 L548.9 835.2 L549.6 835.4 L550.3 835.5 L551.0 835.2 L551.7 835.5 L552.4 835.5 L553.1 835.3 L553.8 835.2 L554.5 835.3 L555.2 835.5 L555.9 835.1 L556.6 835.5 L557.3 835.4 L558.1 835.0 L558.8 835.1 L559.5 835.1 L560.2 835.4 L560.9 835.0 L561.6 835.2 L562.3 835.4 L563.0 835.0 L563.7 834.9 L564.4 835.3 L565.1 835.1 L565.1 838.7Z M564.9 838.7 L564.9 828.2 L565.6 828.2 L566.3 828.0 L567.0 828.2 L567.7 827.9 L568.4 827.9 L569.1 827.9 L569.8 828.0 L570.5 828.3 L571.2 828.0 L571.9 828.1 L572.6 828.1 L573.3 828.1 L574.0 828.2 L574.8 828.2 L575.5 827.9 L576.2 828.2 L576.9 828.3 L577.6 827.9 L578.3 828.1 L579.0 828.1 L579.7 828.3 L580.4 828.4 L581.1 828.3 L581.8 828.1 L582.5 828.4 L583.2 828.2 L583.9 828.5 L584.6 828.3 L585.3 828.7 L586.0 828.6 L586.7 828.8 L587.4 828.8 L588.1 828.7 L588.8 828.8 L589.5 828.8 L590.2 829.0 L590.9 829.0 L591.6 829.0 L592.3 828.8 L593.0 829.2 L593.8 829.1 L594.5 828.9 L595.2 829.1 L595.9 829.3 L596.6 828.9 L597.3 829.4 L598.0 829.4 L598.7 829.5 L599.4 829.3 L600.1 829.1 L600.8 829.4 L601.5 829.4 L602.2 829.2 L602.9 829.5 L603.6 829.6 L604.3 829.3 L605.0 829.5 L605.7 829.3 L606.4 829.5 L607.1 829.3 L607.8 829.1 L608.5 829.3 L609.2 829.4 L609.9 829.2 L610.6 829.2 L611.3 829.5 L612.1 829.4 L612.8 829.3 L613.5 829.3 L614.2 829.4 L614.9 829.2 L615.6 829.4 L616.3 829.1 L617.0 829.4 L617.7 829.5 L618.4 829.6 L619.1 829.6 L619.8 829.6 L620.5 829.3 L621.2 829.5 L621.2 838.7Z M621 838.7 V836.3000000000001 L624.0 836.9000000000001 V838.7Z" fill="#000"/>
<text class="sf" x="533.8" y="702.0" font-size="6.6" text-anchor="middle">RI</text>
<path d="M508 726.3 L533.8 705.3 L564.9 726.3" stroke="#333" stroke-width="0.5" fill="none" stroke-dasharray="1.2 0.9"/>
<text class="sf" x="618.6" y="712.2" font-size="6.6">n=3</text>
<path d="M630.2 732.5 H641.6 V794.6 H630.2 M630.2 771.2 H641.6" stroke="#222" stroke-width="0.8" fill="none"/>
<text class="ss" x="644.9" y="751.5" font-size="6.2" fill="#222">p= 4.1x10<tspan dy="-2.4" font-size="3.6">-14</tspan></text>
<text class="ss" x="644.9" y="785.3" font-size="6.2" fill="#222">p= 2.9x10<tspan dy="-2.4" font-size="3.6">-15</tspan></text>
<path d="M642.6 804.8 L553.4 779.4 M564.2 782.5 L553.9 787.3" stroke="#c11" stroke-width="0.75" fill="none"/>
<path d="M553.2 779.3 l2.4 -0.5 l-0.6 1.9z M553.6 787.5 l1.6 -1.9 l0.8 1.6z" stroke="#c11" stroke-width="0.4" fill="#c11"/>
<text class="sf" x="643.0" y="806.7" font-size="6.9">Retained</text>
<text class="sf" x="655.4" y="815.3" font-size="6.9" text-anchor="middle">intron</text>
<text class="sf" x="610.2" y="850.2" font-size="6.8" font-style="italic">5’</text>
<text class="sf" x="635.6" y="850.2" font-size="6.8" text-anchor="end" font-style="italic">3’</text>
<path d="M620.2 847.9 H625 M622.8 845.8 L625.2 847.9 L622.8 850" stroke="#000" stroke-width="0.9" fill="none"/>
<line x1="462.50" y1="859.40" x2="624.50" y2="859.40" stroke="#44f" stroke-width="0.5"/>
<path d="M513.0 858.5 l0.9 0.9 l-0.9 0.9 M525.0 858.5 l0.9 0.9 l-0.9 0.9 M537.0 858.5 l0.9 0.9 l-0.9 0.9 M549.0 858.5 l0.9 0.9 l-0.9 0.9 M561.0 858.5 l0.9 0.9 l-0.9 0.9" stroke="#44f" stroke-width="0.4" fill="none"/>
<rect x="465.80" y="856.80" width="42.20" height="5.20" fill="#11f"/>
<rect x="564.90" y="856.80" width="56.20" height="5.20" fill="#11f"/>
<circle cx="476.6" cy="859.4" r="0.5" fill="#bbf"/>
<circle cx="488.6" cy="859.4" r="0.5" fill="#bbf"/>
<circle cx="500.9" cy="859.4" r="0.5" fill="#bbf"/>
<circle cx="576.4" cy="859.4" r="0.5" fill="#bbf"/>
<circle cx="587.9" cy="859.4" r="0.5" fill="#bbf"/>
<circle cx="599.4" cy="859.4" r="0.5" fill="#bbf"/>
<circle cx="611.7" cy="859.4" r="0.5" fill="#bbf"/>
<text class="sf" x="459.2" y="861.3" font-size="7.0" text-anchor="end">CDK10 pre-mRNA</text>
<text class="sf" x="486.8" y="875.2" font-size="7.3" text-anchor="middle">Exon 7</text>
<text class="sf" x="540.7" y="875.2" font-size="7.3" text-anchor="middle">Intron 7</text>
<text class="sf" x="598.9" y="874.6" font-size="7.3" text-anchor="middle">Exon 8</text>
</g>
</svg>
</body></html>
